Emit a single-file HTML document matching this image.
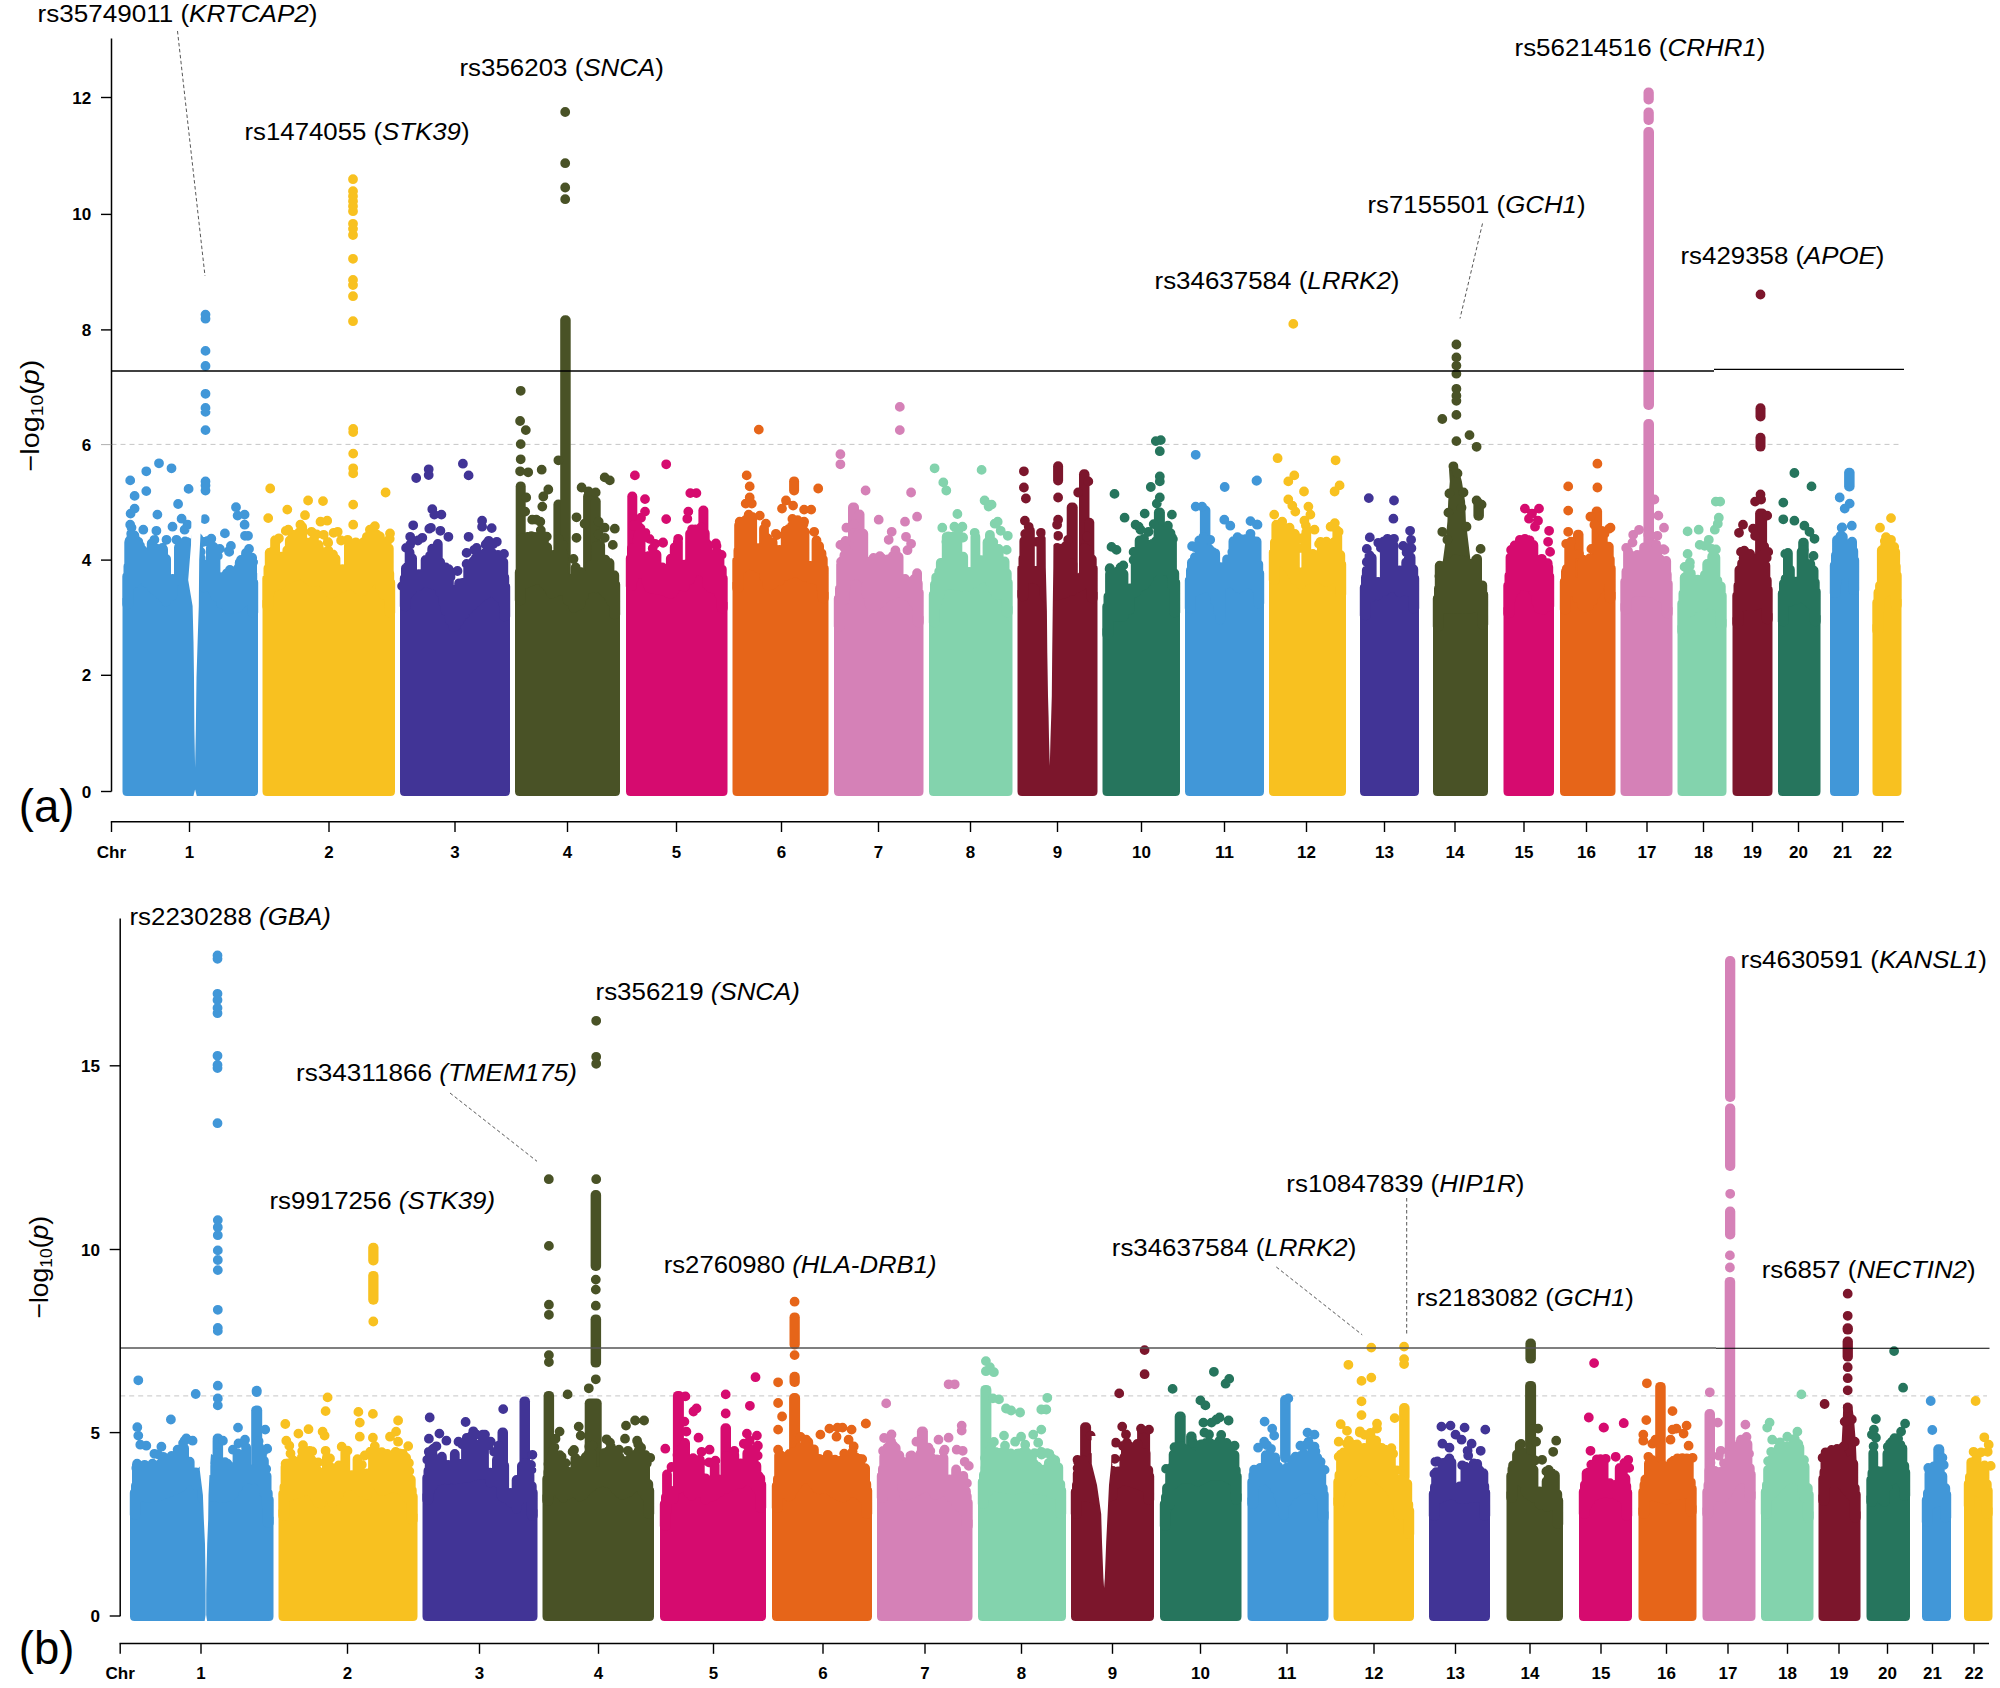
<!DOCTYPE html>
<html lang="en"><head><meta charset="utf-8"><title>Manhattan plots</title>
<style>html,body{margin:0;padding:0;background:#fff}svg{display:block}</style></head>
<body>
<svg width="2000" height="1688" viewBox="0 0 2000 1688" font-family="'Liberation Sans', Arial, sans-serif" fill="#000">
<rect width="2000" height="1688" fill="#fff"/>
<path d="M111.5 444.4 H1901" stroke="#adadad" stroke-width="0.7" stroke-dasharray="5 4" fill="none"/>
<g fill="#4197d8"><path d="M122.5 791.5 L122.5 598.3 L125.5 596.3 L125.5 588.4 L130.2 580.3 L140.3 572.3 L152.4 582.3 L160.4 588.4 L168.5 598.4 L176.5 580.3 L184.6 562.2 L189.6 574.3 L201.7 582.3 L208.8 580.3 L215.8 590.4 L224.9 602.5 L237 602.5 L245 594.4 L250.1 588.4 L255.1 604.4 L256 604.4 L258 606.4 L258 791.5 Q258 796 253.5 796 L127 796 Q122.5 796 122.5 791.5Z"/><path fill="none" stroke="#4197d8" stroke-width="9.8" stroke-linecap="round" d="M127.2 576.3V604.3M128.4 566.3V604.3M253.3 582.4V612.4M252.3 573.2V612.4M129.2 542.3V587.4M131.3 537.5V585.1M131.5 527.6h0M134.4 535.4V583.3M137 550.6V580.6M136.8 540.7h0M140 545.7V578.3M145.9 555.9V582.9M151.7 543.5V587.7M154.5 548.8V590.1M157.6 549V592.5M159.7 556.6V594.2M163.1 549.2V597.5M166.1 559V601.5M172.6 578.8V595.3M178.9 547.5V580.8M185.1 541.5V569.5M191.6 552.7V581.4M190.5 545.3h0M193.7 542.1V582.8M196.4 536.4V584.5M198.3 538.1V586M204.3 564.4V587.6M210.9 547.8V588.7M213.6 547V592.8M215.5 549.5V596.5M221.6 577.1V604.1M227 578.5V608.5M226.9 573.3h0M229.9 569.9V608.5M232.3 583.7V608.5M231.2 576.7h0M235 572.5V608.5M238.2 568.3V607.7M239.7 562.5V605.4M243.7 560.3V602.3M246 553V598.9M248.6 557.3V596.4M252.1 557.6V599.5M129.6 540.7h0M199.5 540.4h0M211.3 538.7h0M229.2 551.9h0M205.5 314.6h0M205.5 318.7h0M205.5 350.9h0M205.5 366h0M205.5 393.8h0M205.5 407.9h0M205.5 411.9h0M205.5 430.1h0M205.5 481.4h0M205.5 485.4h0M205.5 490.5h0M204.7 519.1h0M130.2 480.4h0M146.3 471.3h0M159 463.3h0M171.5 468.3h0M134.6 495.9h0M146.3 491.1h0M188.6 488.9h0M178.1 504h0M134.6 508.6h0M130.6 513.6h0M157.4 514.6h0M181.6 518.7h0M130.2 524.7h0M143.3 529.7h0M156.4 530.8h0M172.5 526.7h0M187.6 524.7h0M236 507.2h0M237.6 515.6h0M244.6 514.6h0M244.6 524.7h0M224.9 533.4h0M248 535.8h0M245 535.8h0M207.8 540.8h0M203.7 541.8h0M230.9 545.9h0M249 548.9h0M219.8 548.9h0M131.2 541.8h0M142.3 549.9h0M138.3 541.8h0M154.4 539.8h0M162.4 547.9h0M166.5 539.8h0M176.5 539.8h0M184.6 529.7h0M131.2 533.8h0M217.8 555.9h0M241 560h0M212.8 549.9h0M228.9 550.9h0M253.1 562h0M200.7 551.9h0M200.7 557.9h0M186.6 541.8h0M188.6 549.9h0"/></g><path fill="#fff" d="M191.5 515 L201.5 515 L199.2 560 L198.8 606 L197.6 642 L196.5 678 L195.8 731 L195.1 768 L194.4 731 L194 678 L193.5 642 L192.6 606 L188.2 580 L191 545Z"/><path fill="#fff" d="M193.3 796.6 L196.9 796.6 L195.1 789.5Z"/>
<g fill="#f8c120"><path d="M262.5 791.5 L262.5 600.3 L265.5 598.3 L265.5 598.3 L271.2 582.3 L281.3 578.3 L289.3 572.3 L301.4 568.2 L311.5 576.3 L321.6 574.3 L331.6 588.4 L341.7 582.3 L351.8 578.3 L361.8 586.4 L369.9 576.3 L375.9 572.3 L382 588.4 L390 590.4 L393 604.4 L395 606.4 L395 791.5 Q395 796 390.5 796 L267 796 Q262.5 796 262.5 791.5Z"/><path fill="none" stroke="#f8c120" stroke-width="9.8" stroke-linecap="round" d="M267.2 578.3V606.3M268.4 568.3V606.3M390.3 582.4V612.4M389.3 573.2V612.4M269.7 552.6V592.8M271.9 552V588.1M275.1 540.1V586.8M281.2 556.7V584.3M287.3 550.1V579.8M289.8 540.4V578.1M292.6 534.7V577.2M296 538.9V576.1M299.3 532.1V575.1M302.2 526.9V574.8M303.9 551.9V576.6M307.8 542.6V579.2M310.7 546.7V581.8M313.9 539.2V581.8M316.2 563.5V581.3M315.8 554.8h0M318.6 545V580.9M320.4 555.7V580.4M323.5 552.3V583.5M326.8 551.6V587.7M328.2 542.8h0M328.5 550.8V590.7M331.1 562.4V594.1M333.2 561.4V593.2M333 554.5h0M335.5 558.6V591.7M342.5 569.2V588M348.9 545.4V585.4M352 551.3V584.5M355.8 542.3V587.2M357.6 544.7V589.3M360.6 579.6V591.1M362.5 545.6V591.4M365.7 547.9V587.2M368.4 550.4V584.1M368.5 545.4h0M370.1 541.6V581.8M370 535.2h0M373.7 536.1V580M376.9 543.8V580.3M380.2 544.5V588.7M379.9 536.4h0M383.1 552.6V594.6M385.8 550.1V595.4M387 541.7h0M388.8 548.3V596.1M389.7 538.8h0M278.9 538.3h0M285.8 530.9h0M316.7 534.4h0M323.7 534.8h0M327.8 542h0M341.1 540.5h0M364 541.8h0M377.1 534.7h0M384.9 546.5h0M353 179.2h0M353 191.2h0M353 196.2h0M353 201.2h0M353 206.2h0M353 211.2h0M353 223.8h0M353 228.8h0M353 235h0M353 258.8h0M353 280h0M353 285h0M353 296.2h0M353 321.2h0M353.2 429h0M353.2 432.1h0M353.2 453.6h0M353.2 468.3h0M353.2 473.4h0M353.2 504.6h0M353.2 524.7h0M270.2 488.5h0M385.6 492.5h0M308.1 500.5h0M323 501.1h0M287.3 509.6h0M268.2 518.1h0M305 515.2h0M320.5 521.7h0M327.2 520.7h0M337.7 531.8h0M374.9 526.1h0M390 533.4h0M288.3 529.7h0M300.4 524.7h0M366.9 536.8h0M333.6 532.8h0M311.5 531.8h0M369.9 529.7h0M277.2 539.8h0M347.7 539.8h0"/></g>
<g fill="#413496"><path d="M400 791.5 L400 600.3 L403 598.3 L403 598.3 L406.1 590.4 L414.2 582.3 L426.3 576.3 L438.4 580.3 L446.4 606.5 L454.5 622.6 L462.5 610.5 L470.6 600.5 L482.7 590.4 L492.7 584.3 L500 592.4 L506.8 602.5 L508 608.4 L510 610.4 L510 791.5 Q510 796 505.5 796 L404.5 796 Q400 796 400 791.5Z"/><path fill="none" stroke="#413496" stroke-width="9.8" stroke-linecap="round" d="M404.7 578.3V606.3M405.9 568.3V606.3M505.3 586.4V616.4M504.3 577.2V616.4M407.4 566.8V595.4M409.6 552.4V592.4M410.1 544.7h0M412.1 558.2V590.3M418.8 574.2V586.1M425.6 560V582.8M427.9 564V582.8M430 555.8V583.6M432.2 548.7V584.4M436.2 549.3V585.5M437.8 543.9V586.1M440.2 562.2V592.4M443 570.7V602.3M445.8 567.4V611.3M448.9 574.1V616.4M450.4 596.2V620.9M453.6 589.6V627M455.8 591.1V626.1M459.1 583.3V621.3M461.5 593.2V617.3M462.6 582.8h0M465.2 592.3V613.7M468.2 565.3V609.5M471.5 564.6V606M473.4 561.2V604.3M475.8 557.9V602.3M474.3 549.8h0M478.1 576.8V600.2M481.1 562.3V597.5M484.5 553.5V595.4M487 550.7V593.6M486.8 543.2h0M489.3 551.6V592.3M492.4 553.2V590.4M496 558.2V594M498 554.8V596.5M500.7 555.9V598.9M503.3 562V603.8M417.9 540.5h0M430.9 527.8h0M448.7 569.2h0M466.6 563.9h0M478 554.1h0M485.7 544.5h0M493.3 544h0M416.2 478h0M428.7 469.3h0M428.7 475h0M462.9 463.7h0M468.6 475.4h0M432.3 509.2h0M434.3 514.6h0M441.4 514.6h0M413.2 525.3h0M429.3 528.7h0M440.4 530.8h0M448.4 536.8h0M468.6 536.8h0M482.1 520.7h0M482.1 526.7h0M491.7 528.1h0M410.2 536.8h0M406.1 547.9h0M488.7 540.8h0M466.6 552.9h0M457.5 571h0M450.5 577.1h0M422.3 537.8h0M476.6 547.9h0M496.8 541.8h0M402.1 586.1h0M504 553.9h0"/></g>
<g fill="#495226"><path d="M515 791.5 L515 594.3 L518 592.3 L518 582.3 L528.2 576.3 L540.3 572.3 L552.4 588.4 L560.4 582.3 L572.5 602.5 L580.6 598.4 L586.6 582.3 L600.7 582.3 L608.8 590.4 L617.8 606.4 L618 606.4 L620 608.4 L620 791.5 Q620 796 615.5 796 L519.5 796 Q515 796 515 791.5Z"/><rect x="515.7" y="481.4" width="10" height="107.3" rx="4.9"/><rect x="553.4" y="499.5" width="10" height="92.3" rx="4.9"/><rect x="560.2" y="315.2" width="10.5" height="283.5" rx="4.9"/><rect x="583.1" y="491.5" width="11" height="98.9" rx="4.9"/><rect x="590.7" y="496.5" width="10" height="93.8" rx="4.9"/><path fill="none" stroke="#495226" stroke-width="9.8" stroke-linecap="round" d="M519.7 572.3V600.3M520.9 562.3V600.3M615.3 584.4V614.4M614.3 575.2V614.4M521.6 547.1V585.9M525 539V584.2M527.5 536.8V582.7M530.1 537.1V581.8M532.5 545.7V580.9M531.3 536.2h0M534.8 536.8V580.2M536.7 551.6V579.5M539.3 539.2V578.7M541 532.9V579.5M543.9 538.5V583.5M547.2 547.3V586.8M550.1 571.4V591M551.5 577.2V593.7M553.3 568.7h0M554.7 554.7V592.9M556.9 556V590.7M559.2 548.5V589M559 539.4h0M562.2 551.4V590.9M567.7 578V600.5M573.7 581.6V608M575.7 567.4V606.8M578.2 574.1V605.5M580.4 571.9V604.5M583.9 578.1V596M590.1 565.2V588.3M596 546.4V588.3M600.2 545.2V588.3M598.6 534.5h0M602.3 580.4V590M605.4 559.6V593.2M607.7 569.9V595.4M609.5 562.9V598.5M611.6 576.7V602.1M522.1 538.3h0M540.8 530.1h0M546.8 536.6h0M563 545h0M573.5 559h0M565.2 112h0M565.2 163.2h0M565.2 187.5h0M565.2 199.2h0M520.7 390.8h0M520.1 421h0M525.8 430.1h0M520.7 444.1h0M520.7 459.3h0M520.1 471.3h0M528.2 472.3h0M541.7 469.7h0M558.4 460.3h0M548.3 489.5h0M543.3 496.5h0M542.3 506.6h0M581.6 487.5h0M588.6 491.5h0M595.7 492.5h0M604.7 477.4h0M609.8 480.4h0M576.5 517.3h0M536.3 519.7h0M614.8 528.7h0M604.7 527.7h0M576.5 537.8h0M612.8 544.9h0M532.2 519.7h0M540.3 521.7h0M604.7 537.8h0M584.6 523.7h0M598.7 521.7h0M526.2 497.5h0M525.2 511.6h0"/></g>
<g fill="#d60b6f"><path d="M626 791.5 L626 580.2 L629 578.2 L629 578.2 L641 562.2 L649 582.3 L661.1 584.3 L671.2 588.4 L679.3 578.3 L687.3 582.3 L693.4 566.2 L703.4 562.2 L707.5 580.3 L717.5 584.3 L723.6 598.4 L725.5 600.3 L727.5 602.3 L727.5 791.5 Q727.5 796 723 796 L630.5 796 Q626 796 626 791.5Z"/><rect x="627.3" y="491.5" width="10" height="90.3" rx="4.9"/><rect x="698.4" y="505.6" width="10" height="64.6" rx="4.9"/><path fill="none" stroke="#d60b6f" stroke-width="9.8" stroke-linecap="round" d="M630.7 558.2V586.2M631.9 548.2V586.2M722.8 578.3V608.3M721.8 569.1V608.3M633.6 563.1V578.7M636.5 547.5V574.6M637.4 540.8h0M638.8 533.4V571.6M637.7 525.3h0M640.6 528.5V568.9M643.7 556.3V574.6M646.5 573.4V581.6M648.8 555.9V587.5M651.1 576.7V588.7M654 554.3V589.2M652.7 548.4h0M656.5 554.7V589.6M662.4 567.4V590.9M667.8 571V593.1M670.8 558.6V594M672.8 559.4V592.8M674.7 547.3V589.8M677.9 541.5V585.7M684.4 564.6V586.9M690.1 533.6V579.5M692.9 530V573.6M695.5 529.3V571.2M699.2 558.6V570M701.1 527.3V568.9M704.8 533.3V573.4M707.3 544.1V585.1M710.1 563.2V587.5M713.2 553.9V588.7M716.9 552V589.9M719.5 558.8V594.7M633.1 525.5h0M637.7 526.3h0M645.4 532.8h0M649.5 538.9h0M663 542.4h0M692.1 529.3h0M715.9 543.4h0M634.9 475.4h0M666.2 464.3h0M690.3 493.1h0M696.4 493.1h0M645 499.1h0M666.2 519.1h0M688.3 511.6h0M687.3 518.7h0M645 511.6h0M641 517.7h0M678.2 538.8h0M693.4 529.7h0M705.4 541.8h0M716.5 545.9h0M655.1 543.8h0M663.1 542.8h0M721.6 554.9h0"/></g>
<g fill="#e66519"><path d="M732.5 791.5 L732.5 582.2 L735.5 580.2 L735.5 580.2 L739.7 564.2 L749.7 558.2 L761.8 564.2 L767.9 580.3 L777.9 576.3 L788 568.2 L798.1 566.2 L806.1 572.3 L818.2 574.3 L824.3 588.4 L826.5 590.3 L828.5 592.3 L828.5 791.5 Q828.5 796 824 796 L737 796 Q732.5 796 732.5 791.5Z"/><rect x="789.1" y="476.4" width="10" height="19.1" rx="4.9"/><path fill="none" stroke="#e66519" stroke-width="9.8" stroke-linecap="round" d="M737.2 560.2V588.2M738.4 550.2V588.2M823.8 568.3V598.3M822.8 559.1V598.3M739.1 525.1V570.5M742.4 526.6V568.5M745.7 519.9V566.5M748.5 516.9V564.7M752.2 516.9V565.3M758.1 548.1V568.3M764 528.7V576.8M767.2 538.1V585.2M769.2 560.2V585.6M772.6 542.1V584.4M779.4 549.8V581.2M785.7 530.7V575.9M788.5 529.2V574.1M791.2 527.9V573.6M792.4 518.9h0M793.3 542.1V573.1M795.8 527.3V572.6M798.2 526.2V572.3M797.7 520.1h0M800.8 565.7V574.6M804.5 531.5V576.9M803.5 524.1h0M810.4 566V579M816.5 540.4V580M819.1 545.9V581.4M821.5 553.3V588.5M776.9 535.1h0M796 523.4h0M758.8 429.6h0M746.7 475.4h0M749.7 486.4h0M818.2 488.5h0M749.7 497.5h0M751.8 503.6h0M745.7 503.6h0M786 500.5h0M782 508.6h0M793.1 505.6h0M804.1 509.6h0M811.2 509.6h0M748.7 514.6h0M759.8 515.6h0M804.1 521.7h0M739.7 521.7h0M765.9 523.7h0M792 525.7h0M814.2 531.8h0M775.9 533.8h0"/></g>
<g fill="#d581b7"><path d="M834 791.5 L834 620.5 L837 618.5 L837 606.5 L842.4 602.5 L848.4 570.2 L862.5 568.2 L868.6 598.4 L876.6 600.5 L886.7 590.4 L900 586.4 L900 588.4 L908.1 590.4 L916.1 598.4 L921.5 612.5 L921.5 614.4 L923.5 616.4 L923.5 791.5 Q923.5 796 919 796 L838.5 796 Q834 796 834 791.5Z"/><rect x="848" y="502.6" width="11" height="75" rx="4.9"/><rect x="854.5" y="509.6" width="10" height="67.1" rx="4.9"/><path fill="none" stroke="#d581b7" stroke-width="9.8" stroke-linecap="round" d="M838.7 598.5V626.5M839.9 588.5V626.5M918.8 592.4V622.4M917.8 583.2V622.4M841.1 564.5V609.4M844.4 555.2V600M844.5 547.9h0M846 548.4V588.4M845.5 541h0M852.3 553.8V575.7M858.1 534V574.8M861.4 538.9V574.4M863.3 533.7V578.1M866.8 566.5V594.8M869.6 570.7V604.6M871.4 560.8V605.2M873.5 558V605.7M876.4 565.5V606.4M878.3 562V604.4M880.8 593.4V602.4M882.5 558.6V600.2M885.2 562.8V598M888.6 559.2V595.9M891 558.6V595.1M892.8 556V594.4M895.4 550.5V593.6M898.6 556.9V592.7M905.1 578.9V595.6M911.6 583.2V599.8M914.3 578.9V603.1M917.1 573.1V607.5M841.1 561.7h0M854.1 524.2h0M879.9 556.1h0M907.5 550.2h0M840.4 454.2h0M840.4 464.3h0M899.8 406.9h0M899.8 430.1h0M865.6 490.5h0M878.7 519.7h0M891.7 531.8h0M840.4 544.9h0M846.4 527.7h0M888.7 539.8h0M911.1 492.5h0M917.1 516.7h0M905 521.7h0M906 536.8h0M911.1 543.8h0"/></g>
<g fill="#83d3ad"><path d="M929 791.5 L929 616.4 L932 614.4 L932 606.5 L936.3 598.4 L942.3 580.3 L950.4 578.3 L960.4 580.3 L970.5 580.3 L980.6 572.3 L988.6 572.3 L994.7 588.4 L1004.7 588.4 L1009.8 602.5 L1010.5 604.4 L1012.5 606.4 L1012.5 791.5 Q1012.5 796 1008 796 L933.5 796 Q929 796 929 791.5Z"/><path fill="none" stroke="#83d3ad" stroke-width="9.8" stroke-linecap="round" d="M933.7 594.4V622.4M934.9 584.4V622.4M1007.8 582.4V612.4M1006.8 573.2V612.4M936.2 577.3V604.7M939.2 571.5V596M940.8 562.8V589.6M944.2 561.9V585.9M946.7 536.8V585.2M948.9 572.5V584.7M950.9 538.4V584.4M953.2 541.8V584.9M952 536.7h0M955.2 537.4V585.4M957.4 539V585.8M958.5 529.7h0M960.9 570.1V586.3M963.2 556.6V586.3M969.1 571.8V586.3M975.4 536.7V582.7M981.1 560.1V578.3M987.5 542.3V578.3M989.9 534.8V582M993.3 581.7V590.3M996.3 553.8V594.4M998.7 548.9V594.4M1000.9 570.2V594.4M1004.6 561.5V594.4M948.2 536.4h0M955.4 535.2h0M963.1 537.5h0M974.7 532.8h0M993.3 542.1h0M934.6 468.3h0M981.6 469.9h0M943.3 482.4h0M946.3 490.5h0M984.6 500.5h0M988.6 506.6h0M991.6 504.6h0M957.4 514h0M997.7 521.7h0M942.3 527.7h0M954.4 526.7h0M962.4 526.7h0M1000.7 530.8h0M1007.8 535.8h0M994.7 523.7h0M946.3 541.8h0M1006.7 549.9h0"/></g>
<g fill="#7c162c"><path d="M1017.5 791.5 L1017.5 590.3 L1020.5 588.3 L1020.5 588.3 L1021.9 574.3 L1030.9 572.3 L1041 574.3 L1045 592.4 L1061.1 588.4 L1069.2 586.4 L1077.2 582.3 L1091.3 574.3 L1095.4 590.3 L1095.5 590.3 L1097.5 592.3 L1097.5 791.5 Q1097.5 796 1093 796 L1022 796 Q1017.5 796 1017.5 791.5Z"/><rect x="1053.1" y="461.3" width="10" height="24.2" rx="4.9"/><rect x="1079" y="469.3" width="10.5" height="117" rx="4.9"/><rect x="1066.7" y="502.6" width="11" height="90.3" rx="4.9"/><rect x="1084.3" y="517.7" width="10" height="65.8" rx="4.9"/><path fill="none" stroke="#7c162c" stroke-width="9.8" stroke-linecap="round" d="M1022.2 568.3V596.3M1023.4 558.3V596.3M1092.8 568.3V598.3M1091.8 559.1V598.3M1024.3 541V579.7M1025.2 533.9h0M1026.8 534.1V579.1M1028.7 526.8h0M1029.9 530.5V578.5M1035.7 571V579.2M1041.4 539.7V582.2M1044.8 572.5V596.1M1046.2 552.3V598M1045.2 544h0M1049.1 580.5V597.4M1050.6 574h0M1052.3 551.5V596.6M1053.9 579.6V596.1M1057.9 557.8V595.3M1058.5 548.5h0M1061.4 557.2V594.4M1063.4 553.3V593.7M1065.6 546.2V593.2M1072.4 563.4V590.7M1078.6 577.8V587.4M1082.4 576V585.6M1084.5 547.8V584.1M1086.5 555.7V582.8M1089.2 550.1V581.4M1045.2 550.4h0M1050.4 550.4h0M1068.2 539.8h0M1087 536.7h0M1023.9 471.3h0M1023.9 487.5h0M1025.9 498.5h0M1024.9 520.7h0M1058.1 497.5h0M1058.1 519.7h0M1057.1 524.7h0M1058.1 535.8h0M1057.1 547.9h0M1078.2 492.5h0M1088.3 481.4h0M1028.9 531.8h0M1041 532.8h0M1037 541.8h0M1025.9 545.9h0"/></g><path fill="#fff" d="M1045.6 530 L1053.5 530 L1053.3 568 L1052.7 611 L1052.2 653 L1051.8 696 L1051.2 717 L1050.5 738 L1049.8 766 L1049 738 L1048.6 717 L1048 696 L1047.3 653 L1046.9 611 L1045.8 568Z"/>
<g fill="#26755d"><path d="M1102.5 791.5 L1102.5 628.5 L1105.5 626.5 L1105.5 622.6 L1106.4 611.5 L1117.5 610.5 L1127.6 610.5 L1131.6 598.4 L1137.7 582.3 L1145.7 578.3 L1153.8 564.2 L1163.8 564.2 L1169.9 566.2 L1173.9 588.4 L1178 604.4 L1178 604.4 L1180 606.4 L1180 791.5 Q1180 796 1175.5 796 L1107 796 Q1102.5 796 1102.5 791.5Z"/><rect x="1153.9" y="507.6" width="11" height="64.6" rx="4.9"/><path fill="none" stroke="#26755d" stroke-width="9.8" stroke-linecap="round" d="M1107.2 606.5V634.5M1108.4 596.5V634.5M1175.3 582.4V612.4M1174.3 573.2V612.4M1110 574V617.3M1109.8 568.2h0M1112.8 588.9V617M1115.2 577.1V616.8M1117.5 578V616.6M1118.2 571h0M1120 580V616.5M1123.5 574V616.5M1123.3 565.4h0M1129.9 588.3V609.6M1135.7 553.6V592.4M1139.6 540.5V587.5M1140.5 529.8h0M1142.1 551V586.1M1143.5 544.6h0M1144.4 557.2V585.1M1142.8 548.6h0M1146.5 556.1V582.2M1148.8 550.7V578.6M1148.7 544.9h0M1152.3 543.9V573M1155.7 541.5V570.2M1158.5 528.8V570.2M1161.6 543.5V570.2M1164.4 531.6V570.3M1166.9 550.7V571.2M1165.8 539.9h0M1170.5 533.2V574M1172 537.4V585.2M1109.6 569h0M1120.5 567.4h0M1144 538.8h0M1148.5 531.8h0M1153.7 524.1h0M1172.9 539.1h0M1155.8 441.1h0M1160.8 440.1h0M1159.8 451.2h0M1159.8 476.4h0M1159.8 481.4h0M1150.8 487h0M1114.5 493.9h0M1159.8 497.5h0M1156.8 503.6h0M1124.6 517.7h0M1144.7 513.6h0M1171.9 514.6h0M1135.6 524.7h0M1138.7 526.7h0M1111.5 546.9h0M1116.5 549.9h0M1167.9 525.7h0M1169.9 533.8h0M1133.6 560h0M1133.6 551.9h0M1171.9 549.9h0"/></g>
<g fill="#4197d8"><path d="M1185 791.5 L1185 602.3 L1188 600.3 L1188.4 600.3 L1191 588.4 L1198.1 584.3 L1209.2 580.3 L1214.2 590.4 L1220.2 616.6 L1222.3 582.3 L1230.3 574.3 L1238.4 582.3 L1246.4 577.3 L1254.5 579.3 L1260.5 590.4 L1262 595.3 L1262 595.3 L1264 597.3 L1264 791.5 Q1264 796 1259.5 796 L1189.5 796 Q1185 796 1185 791.5Z"/><rect x="1199.9" y="505.6" width="10.5" height="84.2" rx="4.9"/><path fill="none" stroke="#4197d8" stroke-width="9.8" stroke-linecap="round" d="M1189.7 580.3V608.3M1190.9 570.3V608.3M1259.3 573.3V603.3M1258.3 564.1V603.3M1191.9 562.4V593.8M1194.9 557.2V592.2M1194.4 547h0M1197.4 557.7V590.6M1199.6 549.4V589.8M1199.4 541.7h0M1201.5 541V589M1205.1 564V587.9M1208.1 551.1V586.8M1209.5 549.2V588M1213 552.1V593.4M1215.2 553.3V600.9M1218.1 572.1V611.9M1220.2 579.5V619.9M1220.6 571h0M1227.1 559.3V583.5M1233.4 541.2V583.7M1235.7 568.1V585.7M1238.7 544.9V588.3M1241.8 540.7V586.5M1243.5 542.3V585.1M1246.3 539V583.5M1249.4 540.1V583.9M1251.2 539V584.5M1254.3 543.5V585.3M1256.6 541.5V589.1M1192.1 546.2h0M1199.3 540.4h0M1203.3 536.9h0M1220.6 567.2h0M1237.5 537.2h0M1241.9 539.5h0M1195.7 454.8h0M1256.5 480.8h0M1224.7 487h0M1195.7 506.6h0M1202.1 506.6h0M1224.3 519.7h0M1230.3 525.7h0M1250.5 521.1h0M1257.5 524.7h0M1210.2 539.8h0M1250.5 533.8h0M1232.3 551.9h0M1252.5 549.9h0M1242.4 547.9h0M1257 480.4h0M1257 524.7h0"/></g>
<g fill="#f8c120"><path d="M1269 791.5 L1269 574.1 L1272 572.1 L1272 572.1 L1274.2 554.1 L1282.2 556.1 L1290.3 564.2 L1298.3 580.3 L1306.4 574.3 L1316.5 570.2 L1326.5 576.3 L1334.6 570.2 L1342.6 576.3 L1344 586.2 L1344 586.2 L1346 588.2 L1346 791.5 Q1346 796 1341.5 796 L1273.5 796 Q1269 796 1269 791.5Z"/><path fill="none" stroke="#f8c120" stroke-width="9.8" stroke-linecap="round" d="M1273.7 552.1V580.1M1274.9 542.1V580.1M1341.3 564.2V594.2M1340.3 555V594.2M1276.3 524.7V560.6M1278.3 537.1V561.2M1280.6 539.3V561.7M1283.8 529.2V563.3M1286.7 528.9V566.5M1289.6 527.7V569.8M1292.3 539.7V574.8M1292.1 533.6h0M1294.9 533.9V579.6M1300.8 572.3V584.5M1306.3 532V580.2M1305.9 525.6h0M1312.9 553.9V577.7M1319.6 553.9V578M1319.1 543.9h0M1321.8 548.4V579.3M1323.8 553.1V580.7M1324.4 546.5h0M1326.4 541.6V582.2M1329.6 544.2V579.8M1332.6 544.5V577.6M1334.6 541.8V576.6M1337.3 530.6V578.6M1300.9 538.3h0M1334.8 523.1h0M1293.3 323.9h0M1277.6 458.2h0M1335.6 460.3h0M1294.3 475.4h0M1288.3 481.4h0M1339.6 485.4h0M1334.6 491.5h0M1304 491.5h0M1288.3 499.5h0M1308.4 506.6h0M1295.3 511.6h0M1310.4 514.6h0M1304.4 520.7h0M1274.2 514.6h0M1330.6 526.7h0M1314.5 529.7h0M1292.3 505.6h0M1282.2 521.7h0M1338.6 531.8h0M1320.5 541.8h0M1300.4 547.9h0"/></g>
<g fill="#413496"><path d="M1360 791.5 L1360 609.4 L1363 607.4 L1363 606.5 L1365.8 590.4 L1374.9 591.4 L1382.9 586.4 L1391 580.3 L1399 586.4 L1409.1 584.3 L1415.2 591.4 L1417 600.3 L1417 600.3 L1419 602.3 L1419 791.5 Q1419 796 1414.5 796 L1364.5 796 Q1360 796 1360 791.5Z"/><path fill="none" stroke="#413496" stroke-width="9.8" stroke-linecap="round" d="M1364.7 587.4V615.4M1365.9 577.4V615.4M1414.3 578.3V608.3M1413.3 569.1V608.3M1366.8 570.1V596.5M1369.5 555.3V596.8M1371.7 557.8V597M1378.1 582V595.4M1384.8 547V591.1M1383.9 541.3h0M1387.2 546.2V589.4M1387.5 538.8h0M1390 540.6V587M1393.3 544.8V587.9M1399.6 570.5V592.3M1406.2 562.3V591M1406.6 552.5h0M1408.9 554.5V590.4M1410.6 557.2V592.3M1411.4 548.2h0M1378.3 542.8h0M1368.8 498.1h0M1394 500.5h0M1393.4 518.7h0M1410.1 530.8h0M1369.8 537.4h0M1394 538.8h0M1366.8 548.9h0M1380.9 547.9h0M1409.1 547.9h0M1411.1 539.8h0M1403.1 545.9h0M1366.8 562h0M1368.8 570h0"/></g>
<g fill="#495226"><path d="M1433 791.5 L1433 620.5 L1436 618.5 L1436 618.5 L1438.3 606.5 L1443.4 602.5 L1471.6 602.5 L1477.6 600.5 L1484.6 606.5 L1486 616.5 L1488 618.5 L1488 791.5 Q1488 796 1483.5 796 L1437.5 796 Q1433 796 1433 791.5Z"/><rect x="1473.4" y="498.5" width="10.5" height="22.2" rx="4.9"/><path d="M1453 464.3 L1457.9 466.3 L1461.9 481.4 L1465.1 501.6 L1465.9 521.7 L1468.3 541.8 L1470.7 562 L1472.4 572 L1441.3 572 L1442.7 562 L1445.4 541.8 L1447.4 521.7 L1448.2 501.6 L1449.8 481.4 L1449 469.3Z"/><path fill="none" stroke="#495226" stroke-width="9.8" stroke-linecap="round" d="M1437.7 598.5V626.5M1438.9 588.5V626.5M1483.3 594.5V624.5M1482.3 585.3V624.5M1439.7 565.6V611.1M1442.7 571V608.7M1445.8 600.3V608.5M1446.2 589.4h0M1447.7 567.6V608.5M1447.9 562.6h0M1450.4 572V608.5M1453 583.3V608.5M1455.9 560V608.5M1458.4 578.7V608.5M1460.3 583.1V608.5M1464.4 561V608.5M1466.2 565.2V608.5M1468.9 569.9V608.5M1469.1 563.7h0M1471.2 576V608.5M1473.8 566.8V607.7M1477.1 558.8V606.6M1479.4 585.2V608M1455.2 559.1h0M1461.6 559.9h0M1476 559.7h0M1456.4 344.5h0M1456.4 357.5h0M1456.4 365.6h0M1456.4 373.7h0M1456.4 388.8h0M1456.4 395.8h0M1456.4 400.8h0M1456.4 414.9h0M1442.3 419h0M1469.5 435.1h0M1456.4 441.1h0M1476.6 446.8h0M1453.4 466.3h0M1457.5 473.4h0M1476.6 500.5h0M1481.6 504.6h0M1448.4 512.6h0M1466.5 526.7h0M1442.3 531.8h0M1480.6 548.9h0M1476.6 562h0M1463.5 492.5h0M1461.5 507.6h0M1449.4 493.5h0M1447.4 539.8h0M1441.3 566h0M1439.3 576.1h0"/></g>
<g fill="#d60b6f"><path d="M1503.5 791.5 L1503.5 607.4 L1506.5 605.4 L1507.8 605.4 L1511.8 589.4 L1519.9 579.3 L1532 581.3 L1538 602.5 L1544.1 604.5 L1548.1 582.3 L1552 584.3 L1552 598.3 L1554 600.3 L1554 791.5 Q1554 796 1549.5 796 L1508 796 Q1503.5 796 1503.5 791.5Z"/><path fill="none" stroke="#d60b6f" stroke-width="9.8" stroke-linecap="round" d="M1508.2 585.4V613.4M1509.4 575.4V613.4M1549.3 576.3V606.3M1548.3 567.1V606.3M1510.5 557.1V600.3M1511.1 549.9h0M1512.8 554.9V593.7M1514.4 546.6h0M1516 548.9V589.7M1518.7 548.8V586.3M1520.8 545.4V585.5M1524.2 577.8V586M1524.9 570.4h0M1527.6 559V586.5M1528.1 553.6h0M1529.6 540.3V587M1533.4 544.9V591.2M1536.6 563.3V602.4M1538.7 579.6V608.6M1540.8 567.9V609.3M1541.8 558.8h0M1543.1 562.7V610.1M1544.9 572.2V606.3M1547.7 563.2V592.4M1514.7 545.4h0M1527.9 540h0M1524.9 508.6h0M1539 508.6h0M1532 513.6h0M1529 518.7h0M1538 520.7h0M1535 526.7h0M1549.1 530.8h0M1548.1 541.8h0M1524.9 538.8h0M1519.9 539.8h0M1550.1 551.9h0"/></g>
<g fill="#e66519"><path d="M1560 791.5 L1560 603.4 L1563 601.4 L1563 601.4 L1564.2 585.4 L1572.3 585.4 L1584.3 602.5 L1590.4 599.5 L1602.5 574.3 L1610.5 570.2 L1613.5 588.4 L1613.5 590.3 L1615.5 592.3 L1615.5 791.5 Q1615.5 796 1611 796 L1564.5 796 Q1560 796 1560 791.5Z"/><rect x="1573" y="529.7" width="10.5" height="72.2" rx="4.9"/><rect x="1591.6" y="506.6" width="10.5" height="87.4" rx="4.9"/><path fill="none" stroke="#e66519" stroke-width="9.8" stroke-linecap="round" d="M1564.7 581.4V609.4M1565.9 571.4V609.4M1610.8 568.3V598.3M1609.8 559.1V598.3M1566.8 568.6V591.4M1569.2 545.5V591.4M1571 552.6V591.4M1571 541.6h0M1577 582.1V598M1582.6 562V606.3M1585.7 569.3V607.6M1589.2 565.2V606M1592.8 562.1V600.9M1595.7 565.5V594.6M1598.6 552.4V589.4M1599.9 541.5V584.5M1602.8 537.7V580M1601.7 530.9h0M1606.5 548.8V578.5M1608.8 546.6V577.4M1579 554h0M1583.1 559.7h0M1589.9 558.2h0M1568.2 486.4h0M1597.4 463.7h0M1597.4 487.5h0M1568.2 510.6h0M1590.4 516.7h0M1568.2 531.8h0M1610.5 527.7h0M1594.4 524.7h0M1591.4 548.9h0M1604.5 533.8h0M1566.2 543.8h0M1609.1 528.7h0"/></g>
<g fill="#d581b7"><path d="M1620.5 791.5 L1620.5 603.4 L1623.5 601.4 L1623.5 601.4 L1626.2 589.4 L1636.3 585.4 L1644.3 585.4 L1654.4 587.4 L1660.4 591.4 L1666.5 589.4 L1670.5 602.5 L1670.5 605.4 L1672.5 607.4 L1672.5 791.5 Q1672.5 796 1668 796 L1625 796 Q1620.5 796 1620.5 791.5Z"/><rect x="1643.5" y="87.5" width="10.3" height="17" rx="4.9"/><rect x="1643.5" y="107.5" width="10.3" height="17.5" rx="4.9"/><rect x="1643.4" y="127" width="10.6" height="283" rx="4.9"/><rect x="1643.4" y="419" width="10.6" height="175.3" rx="4.9"/><path fill="none" stroke="#d581b7" stroke-width="9.8" stroke-linecap="round" d="M1625.2 581.4V609.4M1626.4 571.4V609.4M1667.8 583.4V613.4M1666.8 574.2V613.4M1628 550.9V594.8M1630.3 567.7V593.9M1629.3 558.2h0M1632.3 561.3V592.9M1632.2 556h0M1634.9 566.1V591.9M1636.2 557.8h0M1637.2 554.9V591.4M1639.1 579.3V591.4M1642.1 558.3V591.4M1644.1 547.3V591.4M1647 557.3V591.9M1648.8 565.8V592.3M1651.7 563.5V592.9M1652 555.2h0M1655.6 554.7V594M1657.1 547.7V595.4M1660.1 559.2V597.3M1663.2 580.6V596.4M1666.2 560.9V595.5M1632.5 542.6h0M1639.1 529.8h0M1656.1 544.3h0M1663.4 549.2h0M1654.4 499.5h0M1658.4 515.6h0M1664 527.7h0M1633.2 534.8h0M1648.3 534.8h0M1657.4 535.8h0M1664.5 549.9h0M1626.2 547.9h0"/></g>
<g fill="#83d3ad"><path d="M1677.5 791.5 L1677.5 625.5 L1680.5 623.5 L1680.5 618.6 L1684.6 607.5 L1692.6 605.5 L1698.7 601.5 L1708.8 597.4 L1720.8 601.5 L1724.5 612.5 L1724.5 617.5 L1726.5 619.5 L1726.5 791.5 Q1726.5 796 1722 796 L1682 796 Q1677.5 796 1677.5 791.5Z"/><path fill="none" stroke="#83d3ad" stroke-width="9.8" stroke-linecap="round" d="M1682.2 603.5V631.5M1683.4 593.5V631.5M1721.8 595.5V625.5M1720.8 586.3V625.5M1684.7 577.5V613.5M1688.2 567.3V612.7M1690.8 573.3V611.9M1689.9 562.5h0M1697.7 579.7V608.1M1703.9 580.3V605.2M1704.9 574.7h0M1707.2 564V603.9M1710.3 585.2V604.1M1712.2 556.4V604.7M1715.4 557.5V605.6M1715.9 549.5h0M1717.4 580.4V606.4M1684.6 566.9h0M1689.7 566.1h0M1715.8 501.6h0M1720.2 501.6h0M1718.8 517.7h0M1717.8 523.7h0M1714.8 529.7h0M1687.6 531.4h0M1698.7 529.7h0M1708.8 539.8h0M1699.7 544.9h0M1711.8 548.9h0M1687.6 553.9h0M1704.7 545.9h0M1686.6 568h0"/></g>
<g fill="#7c162c"><path d="M1732.5 791.5 L1732.5 617.5 L1735.5 615.5 L1735.5 615.5 L1737 601.5 L1749 599.5 L1755.1 599.5 L1767.2 595.4 L1770.5 611.4 L1770.5 611.4 L1772.5 613.4 L1772.5 791.5 Q1772.5 796 1768 796 L1737 796 Q1732.5 796 1732.5 791.5Z"/><rect x="1755.5" y="403.3" width="10" height="18.1" rx="4.9"/><rect x="1755.5" y="432.7" width="10" height="18.9" rx="4.9"/><rect x="1755.1" y="508.6" width="12" height="96.8" rx="4.9"/><path fill="none" stroke="#7c162c" stroke-width="9.8" stroke-linecap="round" d="M1737.2 595.5V623.5M1738.4 585.5V623.5M1767.8 589.4V619.4M1766.8 580.2V619.4M1739.4 570V607M1742.1 563.1V606.6M1743.6 558h0M1745.2 560.7V606.1M1744.3 550.6h0M1748.5 590.8V605.5M1751.5 564V605.5M1754.7 560.7V605.5M1757.7 563.6V604.6M1760.4 558.7V603.7M1762.7 554.6V602.8M1764.2 546.4h0M1765.4 565.5V601.9M1766.7 557.7h0M1747.1 558.3h0M1758.9 557.3h0M1760.5 294.5h0M1760.5 494.5h0M1755.1 501.6h0M1761.1 499.5h0M1743 524.7h0M1739 532.8h0M1753.1 528.7h0M1741 551.9h0M1750.1 553.9h0M1767.2 515.6h0M1768.2 551.9h0M1755.1 535.8h0"/></g>
<g fill="#26755d"><path d="M1778 791.5 L1778 615.4 L1781 613.4 L1781 608.5 L1783.3 593.4 L1793.4 597.4 L1799.4 589.4 L1809.5 597.4 L1816.5 599.5 L1818.5 612.5 L1818.5 613.4 L1820.5 615.4 L1820.5 791.5 Q1820.5 796 1816 796 L1782.5 796 Q1778 796 1778 791.5Z"/><rect x="1798.2" y="537.8" width="10.5" height="62.8" rx="4.9"/><path fill="none" stroke="#26755d" stroke-width="9.8" stroke-linecap="round" d="M1782.7 593.4V621.4M1783.9 583.4V621.4M1815.8 591.4V621.4M1814.8 582.2V621.4M1785.6 578.8V600.1M1787.9 553V601.2M1789.9 569.5V602.1M1796 581.6V599.9M1801.6 551.7V597.3M1805.4 583.9V599.9M1804.8 574.1h0M1807.7 564.1V601.9M1810.3 564V603.7M1813.6 570.5V604.7M1803.6 550.1h0M1794.4 473h0M1811.5 486.4h0M1783.3 502.6h0M1783.3 519.3h0M1794.4 520.7h0M1804.4 525.7h0M1809.5 531.8h0M1814.5 538.8h0M1785.3 553.9h0M1813.5 555.9h0"/></g>
<g fill="#4197d8"><path d="M1830 791.5 L1830 587.2 L1833.6 585.2 L1835.2 580.3 L1839.7 569.2 L1849.7 566.2 L1855.8 570.2 L1857 582.2 L1857 582.2 L1859 584.2 L1859 791.5 Q1859 796 1854.5 796 L1834.5 796 Q1830 796 1830 791.5Z"/><rect x="1844.1" y="467.7" width="10.5" height="23.8" rx="4.9"/><path fill="none" stroke="#4197d8" stroke-width="9.8" stroke-linecap="round" d="M1834.7 565.2V593.2M1835.9 555.2V593.2M1854.3 560.2V590.2M1853.3 551V590.2M1837 539.9V581.7M1840.5 536V575.1M1842.8 536.6V574.2M1846.6 545.2V573.2M1849.2 557.6V572.4M1852.1 541.7V574M1842.2 527.4h0M1839.7 497.5h0M1849.7 503.6h0M1844.7 508.6h0M1851.8 525.7h0M1841.7 527.7h0"/></g>
<g fill="#f8c120"><path d="M1872.5 791.5 L1872.5 624.5 L1875.5 622.5 L1876.3 622.5 L1879 606.5 L1882 589.4 L1890 581.3 L1897.1 591.4 L1899.5 597.3 L1899.5 597.3 L1901.5 599.3 L1901.5 791.5 Q1901.5 796 1897 796 L1877 796 Q1872.5 796 1872.5 791.5Z"/><path fill="none" stroke="#f8c120" stroke-width="9.8" stroke-linecap="round" d="M1877.2 602.5V630.5M1878.4 592.5V630.5M1896.8 575.3V605.3M1895.8 566.1V605.3M1880 585.5V608.8M1881.8 550.2V595.5M1885.1 545.4V592.6M1886 537.1h0M1887 550.9V590.1M1889.9 546.4V587.7M1893.1 571V591.5M1894 565.6h0M1895.2 552V594.7M1884.8 541.1h0M1894.2 547h0M1891 518.1h0M1880 527.7h0M1891 539.8h0M1886 543.8h0"/></g>
<path d="M111.5 371 H1714" stroke="#000" stroke-width="1.6" fill="none"/>
<path d="M1714 369.3 H1904" stroke="#000" stroke-width="1.3" fill="none"/>
<path d="M111.5 38.5 V791.4" stroke="#000" stroke-width="1.5" fill="none"/>
<path d="M101 791.5 H111.5" stroke="#000" stroke-width="1.4"/>
<text x="91.2" y="797.5" font-size="16" font-weight="bold" text-anchor="end" textLength="9.5" lengthAdjust="spacingAndGlyphs">0</text>
<path d="M101 675.3 H111.5" stroke="#000" stroke-width="1.4"/>
<text x="91.2" y="681.3" font-size="16" font-weight="bold" text-anchor="end" textLength="9.5" lengthAdjust="spacingAndGlyphs">2</text>
<path d="M101 560.1 H111.5" stroke="#000" stroke-width="1.4"/>
<text x="91.2" y="566.1" font-size="16" font-weight="bold" text-anchor="end" textLength="9.5" lengthAdjust="spacingAndGlyphs">4</text>
<path d="M101 444.6 H111.5" stroke="#999" stroke-width="0.8"/>
<text x="91.2" y="450.6" font-size="16" font-weight="bold" text-anchor="end" textLength="9.5" lengthAdjust="spacingAndGlyphs">6</text>
<path d="M101 329.9 H111.5" stroke="#000" stroke-width="1.4"/>
<text x="91.2" y="335.9" font-size="16" font-weight="bold" text-anchor="end" textLength="9.5" lengthAdjust="spacingAndGlyphs">8</text>
<path d="M101 214.4 H111.5" stroke="#000" stroke-width="1.4"/>
<text x="91.2" y="220.4" font-size="16" font-weight="bold" text-anchor="end" textLength="19" lengthAdjust="spacingAndGlyphs">10</text>
<path d="M101 97.5 H111.5" stroke="#000" stroke-width="1.4"/>
<text x="91.2" y="103.5" font-size="16" font-weight="bold" text-anchor="end" textLength="19" lengthAdjust="spacingAndGlyphs">12</text>
<path d="M110.8 821.8 H1904" stroke="#000" stroke-width="1.5"/>
<path d="M111.5 821.8 V832" stroke="#000" stroke-width="1.4"/>
<text x="111.5" y="857.5" font-size="16" font-weight="bold" text-anchor="middle" textLength="29.4" lengthAdjust="spacingAndGlyphs">Chr</text>
<path d="M189.5 821.8 V832" stroke="#000" stroke-width="1.4"/>
<text x="189.5" y="857.5" font-size="16" font-weight="bold" text-anchor="middle" textLength="9.4" lengthAdjust="spacingAndGlyphs">1</text>
<path d="M329 821.8 V832" stroke="#000" stroke-width="1.4"/>
<text x="329" y="857.5" font-size="16" font-weight="bold" text-anchor="middle" textLength="9.4" lengthAdjust="spacingAndGlyphs">2</text>
<path d="M455 821.8 V832" stroke="#000" stroke-width="1.4"/>
<text x="455" y="857.5" font-size="16" font-weight="bold" text-anchor="middle" textLength="9.4" lengthAdjust="spacingAndGlyphs">3</text>
<path d="M567.5 821.8 V832" stroke="#000" stroke-width="1.4"/>
<text x="567.5" y="857.5" font-size="16" font-weight="bold" text-anchor="middle" textLength="9.4" lengthAdjust="spacingAndGlyphs">4</text>
<path d="M676.5 821.8 V832" stroke="#000" stroke-width="1.4"/>
<text x="676.5" y="857.5" font-size="16" font-weight="bold" text-anchor="middle" textLength="9.4" lengthAdjust="spacingAndGlyphs">5</text>
<path d="M781.5 821.8 V832" stroke="#000" stroke-width="1.4"/>
<text x="781.5" y="857.5" font-size="16" font-weight="bold" text-anchor="middle" textLength="9.4" lengthAdjust="spacingAndGlyphs">6</text>
<path d="M878.5 821.8 V832" stroke="#000" stroke-width="1.4"/>
<text x="878.5" y="857.5" font-size="16" font-weight="bold" text-anchor="middle" textLength="9.4" lengthAdjust="spacingAndGlyphs">7</text>
<path d="M970.5 821.8 V832" stroke="#000" stroke-width="1.4"/>
<text x="970.5" y="857.5" font-size="16" font-weight="bold" text-anchor="middle" textLength="9.4" lengthAdjust="spacingAndGlyphs">8</text>
<path d="M1057.5 821.8 V832" stroke="#000" stroke-width="1.4"/>
<text x="1057.5" y="857.5" font-size="16" font-weight="bold" text-anchor="middle" textLength="9.4" lengthAdjust="spacingAndGlyphs">9</text>
<path d="M1141.5 821.8 V832" stroke="#000" stroke-width="1.4"/>
<text x="1141.5" y="857.5" font-size="16" font-weight="bold" text-anchor="middle" textLength="18.9" lengthAdjust="spacingAndGlyphs">10</text>
<path d="M1224.5 821.8 V832" stroke="#000" stroke-width="1.4"/>
<text x="1224.5" y="857.5" font-size="16" font-weight="bold" text-anchor="middle" textLength="18.9" lengthAdjust="spacingAndGlyphs">11</text>
<path d="M1306.5 821.8 V832" stroke="#000" stroke-width="1.4"/>
<text x="1306.5" y="857.5" font-size="16" font-weight="bold" text-anchor="middle" textLength="18.9" lengthAdjust="spacingAndGlyphs">12</text>
<path d="M1384.5 821.8 V832" stroke="#000" stroke-width="1.4"/>
<text x="1384.5" y="857.5" font-size="16" font-weight="bold" text-anchor="middle" textLength="18.9" lengthAdjust="spacingAndGlyphs">13</text>
<path d="M1455 821.8 V832" stroke="#000" stroke-width="1.4"/>
<text x="1455" y="857.5" font-size="16" font-weight="bold" text-anchor="middle" textLength="18.9" lengthAdjust="spacingAndGlyphs">14</text>
<path d="M1524 821.8 V832" stroke="#000" stroke-width="1.4"/>
<text x="1524" y="857.5" font-size="16" font-weight="bold" text-anchor="middle" textLength="18.9" lengthAdjust="spacingAndGlyphs">15</text>
<path d="M1586.5 821.8 V832" stroke="#000" stroke-width="1.4"/>
<text x="1586.5" y="857.5" font-size="16" font-weight="bold" text-anchor="middle" textLength="18.9" lengthAdjust="spacingAndGlyphs">16</text>
<path d="M1647 821.8 V832" stroke="#000" stroke-width="1.4"/>
<text x="1647" y="857.5" font-size="16" font-weight="bold" text-anchor="middle" textLength="18.9" lengthAdjust="spacingAndGlyphs">17</text>
<path d="M1703.5 821.8 V832" stroke="#000" stroke-width="1.4"/>
<text x="1703.5" y="857.5" font-size="16" font-weight="bold" text-anchor="middle" textLength="18.9" lengthAdjust="spacingAndGlyphs">18</text>
<path d="M1752.5 821.8 V832" stroke="#000" stroke-width="1.4"/>
<text x="1752.5" y="857.5" font-size="16" font-weight="bold" text-anchor="middle" textLength="18.9" lengthAdjust="spacingAndGlyphs">19</text>
<path d="M1798.5 821.8 V832" stroke="#000" stroke-width="1.4"/>
<text x="1798.5" y="857.5" font-size="16" font-weight="bold" text-anchor="middle" textLength="18.9" lengthAdjust="spacingAndGlyphs">20</text>
<path d="M1842.5 821.8 V832" stroke="#000" stroke-width="1.4"/>
<text x="1842.5" y="857.5" font-size="16" font-weight="bold" text-anchor="middle" textLength="18.9" lengthAdjust="spacingAndGlyphs">21</text>
<path d="M1882.5 821.8 V832" stroke="#000" stroke-width="1.4"/>
<text x="1882.5" y="857.5" font-size="16" font-weight="bold" text-anchor="middle" textLength="18.9" lengthAdjust="spacingAndGlyphs">22</text>
<path d="M177.5 31 L205 276" stroke="#444" stroke-width="0.9" stroke-dasharray="3.5 2.5" fill="none"/>
<path d="M1482.5 223.5 L1460 318.5" stroke="#444" stroke-width="0.9" stroke-dasharray="3.5 2.5" fill="none"/>
<text x="37.5" y="21.5" font-size="24.2" textLength="280" lengthAdjust="spacingAndGlyphs">rs35749011 (<tspan font-style="italic">KRTCAP2</tspan>)</text>
<text x="244.5" y="140" font-size="24.2" textLength="225" lengthAdjust="spacingAndGlyphs">rs1474055 (<tspan font-style="italic">STK39</tspan>)</text>
<text x="459.5" y="75.8" font-size="24.2" textLength="204.3" lengthAdjust="spacingAndGlyphs">rs356203 (<tspan font-style="italic">SNCA</tspan>)</text>
<text x="1154.5" y="288.8" font-size="24.2" textLength="245" lengthAdjust="spacingAndGlyphs">rs34637584 (<tspan font-style="italic">LRRK2</tspan>)</text>
<text x="1367.5" y="212.5" font-size="24.2" textLength="218" lengthAdjust="spacingAndGlyphs">rs7155501 (<tspan font-style="italic">GCH1</tspan>)</text>
<text x="1514.5" y="55.5" font-size="24.2" textLength="251" lengthAdjust="spacingAndGlyphs">rs56214516 (<tspan font-style="italic">CRHR1</tspan>)</text>
<text x="1680.5" y="263.8" font-size="24.2" textLength="204" lengthAdjust="spacingAndGlyphs">rs429358 (<tspan font-style="italic">APOE</tspan>)</text>
<text x="18.8" y="822" font-size="45.5">(a)</text><text transform="translate(38.8 471.5) rotate(-90)" font-size="25.5" textLength="112" lengthAdjust="spacingAndGlyphs">−log<tspan font-size="17" dy="4">10</tspan><tspan dy="-4">(</tspan><tspan font-style="italic">p</tspan>)</text>
<path d="M120.2 1395.9 H1987" stroke="#adadad" stroke-width="0.7" stroke-dasharray="5 4" fill="none"/>
<g fill="#4197d8"><path d="M130 1616.5 L130 1508.8 L133 1506.8 L133 1506.8 L133.2 1494.8 L140.3 1490.8 L148.3 1491.8 L160.4 1489.8 L170.5 1485.8 L180.6 1481.8 L186.6 1474.7 L194.7 1474.7 L199.7 1492.8 L211.8 1490.8 L224.9 1491.8 L232.9 1489.8 L239 1477.7 L247 1472.7 L253.1 1473.7 L261.1 1474.7 L267.2 1498.9 L271.2 1514.9 L271.5 1514.9 L273.5 1516.9 L273.5 1616.5 Q273.5 1621 269 1621 L134.5 1621 Q130 1621 130 1616.5Z"/><rect x="251.2" y="1405.4" width="11" height="76.7" rx="4.9"/><rect x="251.7" y="1385.7" width="10" height="11.3" rx="4.9"/><rect x="212.6" y="1433.6" width="10.5" height="65.6" rx="4.9"/><path fill="none" stroke="#4197d8" stroke-width="9.8" stroke-linecap="round" d="M134.7 1492.8V1514.8M135.9 1485.8V1514.8M268.8 1499.5V1522.9M267.8 1493V1522.9M136.9 1464.5V1498.6M139.1 1487.4V1497.4M141.4 1470.5V1497M144.8 1473.6V1497.4M144.6 1464.8h0M147.9 1482.1V1497.7M150.4 1472.2V1497.6M152.5 1463.7V1497.2M154.4 1472.5V1496.8M153.3 1465.9h0M158 1465.2V1496.3M157.9 1454.4h0M160.9 1463.3V1495.6M163 1462.4V1494.7M163.3 1456.8h0M165.9 1478.6V1493.5M168.9 1465V1492.4M171.7 1455.8V1491.5M173.1 1455.9V1490.6M175.6 1458.3V1489.7M177.8 1454.2V1488.7M180.9 1451V1487.4M184.1 1448.3V1483.9M183.1 1443.1h0M186.3 1466.9V1480.8M189.7 1461.7V1480.7M195.9 1472.5V1485.1M202.2 1470.9V1498.4M208.9 1480V1497.3M215.2 1461.5V1497.1M218.2 1464.1V1497.3M218 1453.2h0M221.6 1468.1V1497.6M225 1462.1V1497.8M227.4 1463.7V1497.1M231.1 1466.8V1496.4M233.8 1471.1V1493.9M237.5 1453.1V1487.5M238.5 1443.4h0M240 1464.5V1482.9M242.8 1463.6V1481.2M246.2 1447.5V1479.4M252.3 1469.4V1479.6M258.9 1446.4V1480.4M258.6 1441.3h0M261.9 1453.4V1483.3M263.9 1460.6V1492.5M263.4 1451.4h0M266.6 1475.9V1504.2M137.1 1463.7h0M177.6 1449.6h0M186.3 1438.4h0M217.5 955.5h0M217.5 958.8h0M217.5 993.8h0M217.5 1000h0M217.5 1008h0M217.5 1013.2h0M217.5 1055.8h0M217.5 1065h0M217.5 1068h0M217.5 1123.2h0M217.8 1220.1h0M217.8 1227.2h0M217.8 1235.2h0M217.8 1250.4h0M217.8 1260h0M217.8 1270.1h0M217.8 1309.8h0M217.8 1327.9h0M217.8 1330.9h0M217.8 1385.7h0M217.8 1398.4h0M217.8 1405.4h0M138.3 1380.3h0M195.7 1394h0M170.9 1419.5h0M137.3 1427.2h0M238 1427.6h0M265.2 1429.6h0M138.3 1435.6h0M146.3 1445.7h0M161.4 1446.7h0M184.6 1440.7h0M192.6 1440.7h0M267.2 1448.7h0M154.4 1453.8h0M140.3 1444.7h0M222.9 1440.7h0M209.8 1458.8h0M245 1439.7h0M232.9 1449.7h0M261.1 1459.8h0M266.2 1468.9h0M136.3 1467.9h0M200.7 1482h0"/></g><path fill="#fff" d="M199 1422 L212.5 1422 L212.2 1439 L209.7 1470 L208.5 1495 L208.2 1519 L207.2 1544 L206.6 1569 L206.2 1594 L206.2 1615 L207.2 1621.6 L204.6 1621.6 L205.6 1615 L205.6 1594 L205.4 1569 L205 1544 L203.8 1519 L202.9 1495 L199.8 1470 L199.2 1439Z"/>
<g fill="#f8c120"><path d="M278.5 1616.5 L278.5 1509.8 L281.5 1507.8 L281.5 1496.9 L285.3 1491.8 L297.4 1487.8 L309.5 1482.8 L319.5 1500.9 L325.6 1482.8 L333.6 1498.9 L341.7 1482.8 L349.7 1478.7 L357.8 1482.8 L365.9 1491.8 L373.9 1474.7 L382 1485.8 L392 1480.7 L402.1 1484.8 L410.2 1495.9 L415.2 1499.9 L415.5 1511.9 L417.5 1513.9 L417.5 1616.5 Q417.5 1621 413 1621 L283 1621 Q278.5 1621 278.5 1616.5Z"/><rect x="368.2" y="1242.7" width="10.3" height="22.8" rx="4.9"/><rect x="368.2" y="1270.9" width="10.3" height="33.8" rx="4.9"/><path fill="none" stroke="#f8c120" stroke-width="9.8" stroke-linecap="round" d="M283.2 1493.8V1515.8M284.4 1486.8V1515.8M412.8 1496.5V1519.9M411.8 1490V1519.9M285.5 1466.8V1497.7M288.3 1463.3V1496.7M290.9 1463V1496M290.5 1453.5h0M293.1 1460.2V1495.2M296.2 1464.2V1494.1M299.6 1460.8V1493M301.9 1457.3V1492.1M302.2 1451.3h0M304 1455.8V1491.2M303 1445.1h0M305.6 1459.6V1490.2M309 1461.3V1489.1M311.3 1459.4V1492.4M312.2 1451.5h0M314.8 1463.2V1497.6M317.6 1470.8V1502.8M318.3 1462.4h0M320.9 1489.4V1503.7M323.9 1476.2V1494.3M326.9 1457.5V1491M329.5 1466V1497.3M332.4 1476.4V1502.7M332.3 1468.4h0M335.4 1483.4V1501.2M338.8 1465.4V1494.8M342.2 1469V1488.6M345.3 1452.4V1487M351.5 1475.2V1485.6M357.5 1459.2V1488.8M360.9 1471.8V1492.1M361.8 1464.8h0M367.1 1473.4V1495.2M373 1452.2V1481.8M376.7 1465V1484.3M379.6 1464V1488.2M380.4 1454.1h0M381.3 1461.5V1491M381.8 1452.2h0M384 1456.5V1490.8M387.8 1459.8V1489.1M387.3 1454h0M390.3 1463.9V1487.6M392.9 1458.6V1487.1M395.6 1451.9V1488.3M399.4 1453.3V1489.6M401.7 1481V1490.5M403.8 1461.2V1493.4M403 1454h0M406.7 1467.2V1497.7M406.1 1457.6h0M410.8 1479.5V1502.1M409.3 1471.1h0M285.6 1463.7h0M319.7 1472.5h0M330 1458.4h0M347.5 1450.7h0M364.8 1455.5h0M370.3 1451.7h0M374.8 1446.1h0M408.9 1463h0M373.3 1321.5h0M327.6 1397.4h0M325.6 1411.1h0M358.4 1411.9h0M372.9 1413.9h0M398.1 1420.5h0M285.3 1424h0M359.8 1422.6h0M308.5 1429.2h0M298.4 1433.6h0M322.6 1431.6h0M324.6 1435.6h0M396.1 1431.6h0M390 1436.7h0M286.3 1440.7h0M359.8 1436.7h0M372.9 1437.7h0M408.2 1446.1h0M289.3 1445.7h0M341.7 1446.7h0M309.5 1450.8h0M325.6 1450.8h0M398.1 1441.7h0M333.6 1471.9h0M315.5 1467.9h0"/></g>
<g fill="#413496"><path d="M422.5 1616.5 L422.5 1493.7 L425.5 1491.7 L425.5 1491.7 L426.3 1491.7 L434.3 1475.7 L442.4 1473.7 L454.5 1473.7 L468.6 1471.7 L482.7 1467.7 L492.7 1479.7 L500 1473.7 L500.1 1489.8 L508.2 1493.8 L516.3 1502.9 L520.3 1491.8 L530.4 1491.8 L534.4 1501.9 L535.5 1507.8 L537.5 1509.8 L537.5 1616.5 Q537.5 1621 533 1621 L427 1621 Q422.5 1621 422.5 1616.5Z"/><rect x="519.5" y="1396.4" width="10.5" height="103.5" rx="4.9"/><rect x="497.5" y="1427.6" width="10.5" height="71.5" rx="4.9"/><path fill="none" stroke="#413496" stroke-width="9.8" stroke-linecap="round" d="M427.2 1477.7V1499.7M428.4 1470.7V1499.7M532.8 1492.4V1515.8M531.8 1486V1515.8M429.7 1462.8V1491.1M428.8 1451.8h0M432.5 1453.4V1486.1M433.7 1459.2V1482M433.4 1448.7h0M437.3 1462.7V1481M439.6 1472.6V1480.5M440.3 1466.7h0M441.9 1456.7V1479.9M448.1 1464.8V1479.7M454.8 1454V1479.7M460.4 1463.8V1478.9M466 1443V1478M466.8 1437.8h0M468.9 1445.2V1477.5M472.5 1441.4V1476.5M473.3 1431.3h0M474.4 1444.2V1475.9M477.4 1453.4V1475M480.7 1443.7V1474.3M484 1439.6V1474.8M490.1 1472.6V1482.5M496.9 1459.8V1482.6M498.7 1445.7V1480.7M501.7 1469.2V1496.5M504.2 1465.4V1498M510.4 1493V1502.3M516.6 1479.9V1508.8M518.9 1491.1V1501.2M521.9 1466V1497.8M524.6 1463V1497.8M526.9 1479V1497.8M529.5 1474.7V1497.8M429.6 1457h0M436.4 1446.3h0M462.2 1444.4h0M470.8 1441h0M488.5 1445.6h0M531 1464.9h0M429.7 1417.5h0M465.6 1422h0M439.4 1433.6h0M428.9 1438.7h0M471.6 1435.6h0M482.7 1434.6h0M476.6 1434.6h0M458.5 1441.7h0M446.4 1440.7h0M432.3 1449.7h0M427.3 1459.8h0M490.7 1441.7h0M503.2 1409.1h0M532.4 1454.8h0M494.1 1451.8h0M485 1434.6h0M481 1435.6h0M531.4 1469.9h0"/></g>
<g fill="#495226"><path d="M542.5 1616.5 L542.5 1494.8 L545.5 1492.8 L554.5 1481.8 L564.6 1493.8 L572.6 1483.8 L580.7 1491.8 L588.8 1482.8 L600.8 1475.7 L610.9 1477.7 L621 1489.8 L629 1485.8 L637.1 1477.7 L645.2 1489.8 L651.2 1497.9 L652 1505.8 L654 1507.8 L654 1616.5 Q654 1621 649.5 1621 L547 1621 Q542.5 1621 542.5 1616.5Z"/><rect x="543.6" y="1390.9" width="10.5" height="105.7" rx="4.9"/><rect x="590.6" y="1190" width="10.5" height="81" rx="4.9"/><rect x="590.6" y="1314.4" width="10.5" height="53.2" rx="4.9"/><rect x="584.7" y="1398.4" width="17" height="89.8" rx="4.9"/><path fill="none" stroke="#495226" stroke-width="9.8" stroke-linecap="round" d="M547.2 1478.8V1500.8M548.4 1471.8V1500.8M649.3 1490.4V1513.8M648.3 1484V1513.8M549.8 1469.6V1493.8M548.5 1464h0M551.7 1455.7V1490.7M553.2 1449.9h0M554.3 1458V1487.9M557.5 1461.4V1490.9M559.9 1462.4V1494.6M559.9 1455.2h0M563.2 1462.1V1497.8M569 1472V1494.3M575.4 1457.9V1492.3M574 1450h0M577.4 1477.4V1494.6M579.8 1461.3V1496.7M582.9 1460.3V1495.3M585.7 1457V1491.7M588.6 1453.6V1488.8M589.3 1446.4h0M591.8 1453.7V1486.8M592.6 1445.6h0M598.3 1471.4V1483.2M604.6 1452.8V1482.4M607.9 1451.5V1483.1M611.3 1447.9V1483.7M610 1442.6h0M613.3 1454V1486.3M615.4 1454.7V1489.4M619.5 1456.9V1493.4M621.9 1466.9V1495.2M624.9 1487.4V1494M624.3 1481.4h0M626.8 1469.2V1493M629.5 1458.9V1491.8M628 1450.8h0M632.4 1458.8V1488.5M635.9 1454.3V1485.3M638.5 1451V1486.3M638.2 1444.2h0M642.1 1456.5V1491.2M645.1 1461.5V1495.5M554.4 1447.1h0M560.7 1457.6h0M565.7 1463.1h0M606.6 1439.3h0M613.7 1451.4h0M621.6 1459.9h0M646.8 1463.3h0M596.2 1020.8h0M596.2 1056.8h0M596.2 1063.8h0M596.2 1179.2h0M548.8 1179.2h0M548.9 1245.9h0M548.9 1304.7h0M548.9 1314.8h0M548.9 1355.1h0M548.9 1362.1h0M595.8 1279.6h0M595.8 1289.6h0M595.8 1305.7h0M595.8 1379.3h0M588.8 1388.3h0M567.6 1394.4h0M578.7 1426.6h0M559.6 1431.6h0M626 1425.6h0M635.1 1420.5h0M644.1 1420.5h0M625 1438.7h0M637.1 1440.7h0M572.6 1451.8h0M561.6 1456.8h0M610.9 1446.7h0M645.2 1454.8h0M555.5 1438.7h0M580.7 1435.6h0M641.1 1447.7h0M650.2 1457.8h0M619 1449.7h0"/></g>
<g fill="#d60b6f"><path d="M660 1616.5 L660 1519.9 L663 1517.9 L663 1517.9 L663.3 1513 L668.3 1501.9 L685.4 1472.7 L689.5 1491.8 L697.5 1483.8 L705.6 1493.8 L713.6 1489.8 L731.8 1479.7 L741.8 1477.7 L749.9 1473.7 L757.9 1483.8 L763 1491.8 L764 1499.8 L766 1501.8 L766 1616.5 Q766 1621 761.5 1621 L664.5 1621 Q660 1621 660 1616.5Z"/><rect x="672.9" y="1390.9" width="11" height="101.8" rx="4.9"/><rect x="720.5" y="1423.2" width="10.5" height="67.9" rx="4.9"/><path fill="none" stroke="#d60b6f" stroke-width="9.8" stroke-linecap="round" d="M664.7 1503.9V1525.9M665.9 1496.9V1525.9M761.3 1484.4V1507.8M760.3 1477.9V1507.8M667 1474.5V1510.6M673.4 1490.9V1499.2M679.5 1453.7V1488.5M681.6 1448.6V1484.7M685.1 1443V1479.4M688.1 1459.9V1492.5M691.6 1472.6V1495.7M690.1 1464.4h0M694.1 1464.8V1493.4M693.1 1458.2h0M697.7 1468.9V1490M699.8 1459.6V1492.6M705.5 1478.3V1499.8M711.5 1483.8V1497M714.7 1464.9V1495.5M720.1 1479.7V1492.2M726.1 1456V1489M729.2 1460.4V1487.3M731.4 1473.4V1486M730.4 1464.9h0M734.3 1454.8V1485.2M740.7 1463.5V1484M747.3 1453.3V1481.1M750.2 1450.3V1480.3M749.6 1440.7h0M753.7 1456.9V1484.1M756.4 1465.8V1487.9M757.7 1455.6h0M758.7 1476V1491M671.5 1467h0M677.5 1455h0M682.3 1448h0M708.9 1462.4h0M715.4 1460.7h0M734.3 1451h0M747.1 1445.6h0M755.7 1448.5h0M755.5 1377.2h0M725.7 1394.4h0M749.9 1405.8h0M696.5 1408.5h0M693.5 1411.5h0M725.7 1413.5h0M698.5 1437.7h0M746.9 1433.6h0M756.9 1435.6h0M665.3 1448.7h0M709.6 1449.7h0M685.4 1396.4h0M684.4 1421.6h0M686.4 1431.6h0M757.9 1445.7h0M743.8 1443.7h0M701.6 1451.8h0"/></g>
<g fill="#e66519"><path d="M772 1616.5 L772 1501.8 L775 1499.8 L775 1499.8 L775.1 1481.8 L782.1 1483.8 L789.2 1491.8 L800.2 1473.7 L808.3 1471.7 L818.4 1483.8 L826.4 1481.8 L834.5 1487.8 L842.5 1491.8 L852.6 1485.8 L860.7 1489.8 L867.1 1496.9 L869.9 1505.8 L870 1505.8 L872 1507.8 L872 1616.5 Q872 1621 867.5 1621 L776.5 1621 Q772 1621 772 1616.5Z"/><rect x="789.5" y="1312.4" width="10.3" height="37.1" rx="4.9"/><rect x="789.5" y="1371.8" width="10.3" height="15.1" rx="4.9"/><rect x="789.1" y="1393" width="11" height="98" rx="4.9"/><path fill="none" stroke="#e66519" stroke-width="9.8" stroke-linecap="round" d="M776.7 1485.8V1507.8M777.9 1478.8V1507.8M867.3 1490.4V1513.8M866.3 1484V1513.8M779.1 1455.5V1488.9M781 1455.4V1489.5M783.7 1460.9V1491.4M786.1 1463.7V1494.4M788.8 1461V1496.9M789.3 1454h0M791.1 1479.3V1495.3M793.4 1461V1490.3M797.1 1453.4V1485.1M799.7 1447.7V1481M802.4 1460V1479.3M804.9 1444.2V1478.5M808.3 1441.9V1478M811.8 1457.1V1481.8M813.9 1449.3V1484.8M816.7 1462.5V1488.3M820.2 1465.3V1489.4M819.3 1458.8h0M822 1478.3V1488.8M821 1468.8h0M824.7 1459.9V1488.1M827.8 1454.8V1488.6M830.4 1463V1490.7M833.3 1467.2V1493.1M836.5 1463.1V1495M839.6 1460.9V1496.5M843.4 1464.6V1497.5M844.2 1453.6h0M846 1461.4V1496M845 1454.4h0M847.5 1464.9V1494.6M850.3 1462.6V1493M853.4 1456.9V1492.3M853.7 1446.5h0M857.5 1461.8V1494M859.7 1459V1495.4M862.2 1468.4V1498M862.2 1459.1h0M865.1 1468.1V1500.5M792.9 1452.2h0M800.6 1436.9h0M806.4 1443.9h0M835 1459.6h0M845.9 1461.1h0M850.2 1458.1h0M856.3 1457.6h0M794.6 1301.7h0M794.6 1355.1h0M778.1 1382.3h0M778.1 1403h0M782.1 1416.5h0M778.1 1429.6h0M865.7 1423.6h0M829.4 1428.6h0M837.5 1427.6h0M842.5 1427.6h0M851.6 1429.6h0M820.4 1434.6h0M836.5 1436.7h0M848.6 1439.7h0M806.3 1439.7h0M852.6 1451.8h0M778.1 1449.7h0M866 1423.6h0"/></g>
<g fill="#d581b7"><path d="M877 1616.5 L877 1491.7 L880 1489.7 L880 1489.7 L880.1 1489.7 L884.2 1473.7 L900.3 1473.7 L903.3 1489.8 L912.4 1487.8 L927.5 1479.7 L936.5 1489.8 L944.6 1481.8 L952.6 1495.9 L960.7 1501.9 L968.8 1513 L970.5 1517.9 L970.5 1517.9 L972.5 1519.9 L972.5 1616.5 Q972.5 1621 968 1621 L881.5 1621 Q877 1621 877 1616.5Z"/><rect x="916.9" y="1426.6" width="11" height="63.8" rx="4.9"/><path fill="none" stroke="#d581b7" stroke-width="9.8" stroke-linecap="round" d="M881.7 1475.7V1497.7M882.9 1468.7V1497.7M967.8 1502.5V1525.9M966.8 1496.1V1525.9M884.2 1456.4V1480M883.1 1451h0M887.3 1447.7V1479.7M890.5 1443.9V1479.7M891.5 1434.5h0M893.2 1445.4V1479.7M895.7 1447.9V1479.7M899.4 1455.5V1479.7M902.3 1479.6V1488.6M901.4 1471.8h0M904.3 1462.2V1495.6M907.5 1466.4V1494.9M909.7 1461.3V1494.4M912.5 1465.6V1493.8M911.3 1460.3h0M914 1462.9V1492.7M917.9 1472.5V1491.1M918.8 1464.9h0M920.4 1453.8V1489.4M921.6 1444.3h0M923.4 1453.9V1487.7M925.7 1452.1V1486.5M929.3 1462.7V1487.9M933 1463.8V1491.6M931.8 1457.9h0M935.3 1471.3V1495M939 1467.4V1493.7M941.2 1473.2V1491.2M940.2 1465.9h0M943.5 1458V1489.2M949.7 1479.4V1496.7M956.1 1469.5V1504.5M959.3 1479.2V1507M963.3 1475.8V1510.8M966 1491.2V1515M966.9 1483.3h0M884.1 1438h0M891.1 1441.4h0M911.5 1455.5h0M915.9 1457.5h0M930.3 1451h0M936.9 1459.4h0M943.8 1451.4h0M886.2 1403.4h0M948.6 1384.3h0M954.7 1384.3h0M961.7 1425.6h0M961.7 1430.6h0M938.5 1439.7h0M948.6 1437.7h0M956.7 1449.7h0M962.7 1450.8h0M964.7 1461.8h0M968.8 1465.9h0M916.4 1441.7h0M910.4 1455.8h0M928.5 1447.7h0M944.6 1449.7h0"/></g>
<g fill="#83d3ad"><path d="M978 1616.5 L978 1497.7 L981 1495.7 L981 1495.7 L991.9 1479.7 L1001 1481.8 L1013.1 1483.8 L1025.2 1481.8 L1037.2 1483.8 L1049.3 1485.8 L1057.4 1489.8 L1063.4 1493.8 L1064 1505.8 L1064 1505.8 L1066 1507.8 L1066 1616.5 Q1066 1621 1061.5 1621 L982.5 1621 Q978 1621 978 1616.5Z"/><rect x="980.4" y="1384.9" width="11" height="111.7" rx="4.9"/><path fill="none" stroke="#83d3ad" stroke-width="9.8" stroke-linecap="round" d="M982.7 1481.7V1503.7M983.9 1474.7V1503.7M1061.3 1490.4V1513.8M1060.3 1484V1513.8M985.5 1467.4V1495.7M987.9 1459.4V1491.8M989.2 1451.1h0M989.8 1462.2V1488.6M992.4 1451.9V1485.8M991.9 1444h0M995.4 1451.8V1486.4M993.9 1441.9h0M997.7 1455.7V1486.9M999.3 1453.9V1487.5M1003.3 1451.9V1488.1M1006.4 1462.1V1488.6M1008.6 1455V1489.1M1011.1 1467.7V1489.5M1013.9 1467.2V1489.6M1015 1460h0M1017.3 1453.7V1489.1M1019.6 1453.4V1488.6M1023 1452.5V1488.2M1025.5 1464.3V1487.8M1029.5 1462.7V1488.4M1027.6 1454.4h0M1031.9 1456.2V1488.9M1034.2 1463.9V1489.3M1034.5 1453.1h0M1037.6 1466.6V1489.8M1043.4 1469.6V1490.8M1048.8 1463V1491.8M1052.4 1458.7V1493.4M1055.2 1460.1V1494.9M1058.3 1467.3V1496.1M985.1 1457.9h0M998.9 1452.8h0M1003.5 1451.5h0M1010.7 1453.3h0M1026.8 1452.4h0M1041.6 1454.6h0M1047.2 1453.1h0M985.9 1361.1h0M985.9 1371.2h0M993.9 1372.2h0M989.9 1367.2h0M999 1399.4h0M992.9 1398.4h0M1006 1408.5h0M1011.1 1410.5h0M1020.1 1412.5h0M1047.3 1397.8h0M1041.3 1409.5h0M1046.3 1409.5h0M1004 1435.6h0M1021.1 1436.7h0M1033.2 1434.6h0M1041.3 1429.6h0M1038.2 1442.7h0M1005 1445.7h0M1015.1 1441.7h0M1025.2 1444.7h0M1041.3 1451.8h0M1049.3 1453.8h0"/></g>
<g fill="#7c162c"><path d="M1071 1616.5 L1071 1507.8 L1074 1505.8 L1074 1505.8 L1074 1491.8 L1080.5 1489.8 L1091.6 1491.8 L1095.6 1493.8 L1111.8 1490.8 L1119.8 1473.7 L1129.9 1475.7 L1151 1483.8 L1152 1491.7 L1152 1491.7 L1154 1493.7 L1154 1616.5 Q1154 1621 1149.5 1621 L1075.5 1621 Q1071 1621 1071 1616.5Z"/><rect x="1080.1" y="1422.2" width="11" height="76.6" rx="4.9"/><rect x="1137.1" y="1426.6" width="13" height="62.3" rx="4.9"/><path fill="none" stroke="#7c162c" stroke-width="9.8" stroke-linecap="round" d="M1075.7 1491.8V1513.8M1076.9 1484.8V1513.8M1149.3 1476.3V1499.7M1148.3 1469.9V1499.7M1077.7 1473.6V1496.6M1077.6 1468.1h0M1080.7 1462.4V1495.8M1083.1 1460.2V1496.2M1085.3 1465.7V1496.6M1087.5 1471.4V1497.1M1090.7 1470.1V1497.6M1092.6 1467.2V1498.4M1091.5 1458.1h0M1095.3 1465.7V1499.6M1098.6 1484.9V1499.4M1100.5 1462.9V1498.9M1103.9 1465.8V1498.3M1103.9 1460h0M1107.4 1474.7V1497.7M1107.6 1464.9h0M1109.2 1476.9V1497.3M1112.9 1470.9V1495.5M1118.1 1471.3V1483.3M1124.3 1457.1V1480.5M1125.9 1444.8V1481M1126 1434.5h0M1129 1455.2V1481.5M1131.9 1447.1V1482.6M1134.4 1453.5V1483.5M1137.5 1450.5V1484.6M1137.5 1443.8h0M1140.8 1452.2V1485.7M1143 1456.7V1486.6M1145.6 1453.1V1487.8M1078.1 1461.8h0M1098.7 1465.1h0M1104.2 1454.4h0M1123 1446h0M1144.6 1350.1h0M1144.6 1374.2h0M1119.2 1393.4h0M1122.2 1426.6h0M1141 1428.6h0M1149 1429.6h0M1115.8 1442.7h0M1126.9 1442.7h0M1114.8 1458.8h0M1112.8 1473.9h0M1090.6 1435.6h0M1093.6 1457.8h0M1077.5 1459.8h0"/></g><path fill="#fff" d="M1091.6 1436 L1111.5 1436 L1111.2 1464 L1109 1485 L1107.6 1514 L1106.2 1542 L1104.8 1578 L1104.1 1588 L1103.4 1578 L1102 1542 L1101.2 1514 L1097 1485 L1091.8 1464Z"/>
<g fill="#26755d"><path d="M1160 1616.5 L1160 1519.9 L1163 1517.9 L1163 1517.9 L1163 1503.9 L1170.2 1501.9 L1172.2 1479.7 L1180.2 1472.7 L1190.3 1472.7 L1198.4 1475.7 L1210.5 1469.7 L1222.5 1469.7 L1234.6 1475.7 L1237.6 1491.7 L1239.5 1491.7 L1239.5 1491.7 L1241.5 1493.7 L1241.5 1616.5 Q1241.5 1621 1237 1621 L1164.5 1621 Q1160 1621 1160 1616.5Z"/><rect x="1174.7" y="1411.5" width="11" height="69.2" rx="4.9"/><rect x="1186.1" y="1431.6" width="10.5" height="49.4" rx="4.9"/><path fill="none" stroke="#26755d" stroke-width="9.8" stroke-linecap="round" d="M1164.7 1503.9V1525.9M1165.9 1496.9V1525.9M1236.8 1476.3V1499.7M1235.8 1469.9V1499.7M1167 1487.9V1508.8M1170.1 1468.5V1504.7M1173.6 1454.4V1484.5M1174.5 1447.2h0M1176.8 1453.4V1481.6M1179.2 1462.7V1479.8M1181.3 1446.2V1478.7M1184 1448.6V1478.7M1186.8 1460.9V1478.7M1188.7 1452.7V1478.7M1192.6 1454.5V1479.4M1194.5 1462.3V1480.4M1197.9 1464.7V1481.6M1200.9 1444.4V1480.2M1203.5 1444.1V1478.9M1205.9 1443V1477.9M1209.4 1442.5V1476.4M1209 1434.5h0M1212 1444.2V1475.7M1214.4 1467.6V1475.7M1215 1459.4h0M1217.4 1451.9V1475.7M1219.4 1440.9V1475.7M1221.4 1442V1475.7M1224 1445.7V1476.3M1226.7 1443V1477.7M1228.4 1445.3V1478.8M1231.1 1450.7V1480.1M1234.5 1454.9V1481.5M1193.3 1443h0M1221.2 1435h0M1213.9 1371.8h0M1229.2 1378.9h0M1225.6 1383.7h0M1172.6 1388.9h0M1200.4 1400.4h0M1205.4 1405.4h0M1219.5 1417.5h0M1228.6 1420.5h0M1211.5 1422.6h0M1203.4 1422.6h0M1204.4 1432.6h0M1216.5 1419.5h0M1166.1 1468.9h0M1234.6 1445.7h0M1202.4 1444.7h0"/></g>
<g fill="#4197d8"><path d="M1247.5 1616.5 L1247.5 1497.7 L1250.5 1495.7 L1250.5 1495.7 L1250.5 1491.8 L1256.1 1479.7 L1264.2 1471.7 L1274.2 1479.7 L1280.3 1493.8 L1283.3 1513 L1288.3 1491.8 L1296.4 1485.8 L1306.5 1481.8 L1316.5 1485.8 L1322.6 1493.8 L1326.5 1505.9 L1326.5 1509.8 L1328.5 1511.8 L1328.5 1616.5 Q1328.5 1621 1324 1621 L1252 1621 Q1247.5 1621 1247.5 1616.5Z"/><rect x="1280.1" y="1395" width="10.5" height="67.9" rx="4.9"/><path fill="none" stroke="#4197d8" stroke-width="9.8" stroke-linecap="round" d="M1252.2 1481.7V1503.7M1253.4 1474.7V1503.7M1323.8 1494.4V1517.8M1322.8 1488V1517.8M1254.1 1469.6V1489M1260.3 1467.8V1481.5M1265.8 1455.1V1479.2M1269.2 1454.9V1481.8M1272.2 1457.4V1484.4M1275.1 1457.3V1488.5M1278.3 1466.6V1495.8M1280.8 1469.9V1503.6M1283.7 1485.8V1515.1M1287.2 1467.3V1501.6M1290.8 1465.7V1496.3M1293.7 1459V1494M1295.5 1456.7V1492.4M1298 1480.6V1491.1M1300.8 1456V1489.9M1303.9 1453.4V1488.7M1305.9 1456.5V1487.8M1308.5 1459.3V1488.7M1311.8 1456.7V1489.8M1312.8 1450.5h0M1314.6 1458.1V1491M1315.4 1451.3h0M1316.8 1466.8V1492.2M1317.3 1457.6h0M1319.2 1469.9V1495.9M1321.3 1467.9V1498.7M1267 1445.2h0M1271 1448.8h0M1285.8 1474.5h0M1305.8 1445.2h0M1288.3 1398.4h0M1264.6 1421.6h0M1272.2 1428.6h0M1274.2 1435.6h0M1307.5 1432.6h0M1314.5 1434.6h0M1264.2 1441.7h0M1300.4 1445.7h0M1314.5 1446.7h0M1308.5 1441.7h0M1320.6 1461.8h0M1324.6 1469.9h0M1258.1 1447.7h0"/></g>
<g fill="#f8c120"><path d="M1333.5 1616.5 L1333.5 1497.7 L1336.5 1495.7 L1336.5 1495.7 L1336.5 1495.7 L1344.7 1479.7 L1352.8 1469.7 L1360.8 1464.6 L1370.9 1467.7 L1381 1475.7 L1389 1481.8 L1396.1 1493.8 L1399.1 1510 L1411.2 1501.9 L1412 1523 L1412 1526 L1414 1528 L1414 1616.5 Q1414 1621 1409.5 1621 L1338 1621 Q1333.5 1621 1333.5 1616.5Z"/><rect x="1399.1" y="1403" width="10.5" height="79" rx="4.9"/><path fill="none" stroke="#f8c120" stroke-width="9.8" stroke-linecap="round" d="M1338.2 1481.7V1503.7M1339.4 1474.7V1503.7M1409.3 1510.6V1534M1408.3 1504.1V1534M1341 1459.7V1493.8M1343.5 1452.5V1488.4M1347.1 1452.4V1483.4M1347 1443.6h0M1349.1 1449.8V1480.1M1351.1 1443.7V1477.2M1354 1447.8V1474.7M1357.1 1444.5V1472.7M1364.2 1447.9V1471.6M1370.7 1440.8V1473.6M1370.5 1432.8h0M1372.9 1442.6V1475.3M1376.5 1444.5V1478M1379.8 1464.6V1480.5M1379.2 1455h0M1381.6 1447.8V1482.2M1384.4 1468V1484M1386.6 1477.6V1486.2M1388.5 1457V1487.7M1388.2 1451.5h0M1390.9 1455.7V1491.6M1393.2 1484.2V1495.6M1396.1 1478.8V1501.8M1397 1470.3h0M1398.6 1481V1514.5M1400.8 1479.8V1514.5M1403.8 1483.7V1513M1407.3 1483.8V1510.8M1340.6 1454.7h0M1347 1430.9h0M1359.9 1431.3h0M1364.6 1434.9h0M1376.2 1440.6h0M1391.4 1448.1h0M1371.3 1347.6h0M1404.1 1346.6h0M1404.1 1359.1h0M1404.1 1364.1h0M1348.4 1364.8h0M1371.3 1377.6h0M1361.5 1380.9h0M1361.5 1401.4h0M1361.5 1415.1h0M1394.7 1418.1h0M1340.7 1424.2h0M1377 1423.6h0M1377 1428.6h0M1338.7 1441.7h0M1338.7 1456.8h0M1359.8 1432.6h0M1370.9 1436.7h0M1348.8 1440.7h0M1385 1449.7h0M1393.1 1453.8h0"/></g>
<g fill="#413496"><path d="M1429 1616.5 L1429 1509.8 L1432 1507.8 L1432 1507.8 L1432.3 1495.9 L1441.4 1491.8 L1451.5 1487.8 L1461.6 1493.8 L1471.6 1491.8 L1481.7 1491.8 L1488 1501.9 L1488 1507.8 L1488 1507.8 L1490 1509.8 L1490 1616.5 Q1490 1621 1485.5 1621 L1433.5 1621 Q1429 1621 1429 1616.5Z"/><path fill="none" stroke="#413496" stroke-width="9.8" stroke-linecap="round" d="M1433.7 1493.8V1515.8M1434.9 1486.8V1515.8M1485.3 1492.4V1515.8M1484.3 1486V1515.8M1436.1 1472.2V1500.2M1437.4 1461.4h0M1439.7 1479.9V1498.7M1442.4 1467.7V1497.3M1445.4 1472.1V1496.4M1447 1461.4V1495.5M1449.4 1458.4V1494.6M1451.4 1462.2V1494.1M1453.6 1487.3V1495.3M1459.7 1486.4V1498.7M1465.4 1466.7V1499.1M1468.4 1478.8V1498.4M1472 1467.2V1497.8M1473.7 1463.4V1497.8M1477.2 1463.8V1497.8M1479.5 1470.1V1497.8M1483.4 1473.1V1500.2M1443.1 1462.8h0M1462.2 1465.3h0M1468.2 1455.6h0M1441.4 1426.6h0M1450.5 1425.6h0M1464.6 1427.6h0M1485.3 1429.6h0M1455.5 1434.6h0M1442.4 1443.7h0M1461.6 1439.7h0M1471.6 1443.7h0M1480.7 1450.8h0M1449.5 1447.7h0M1467.6 1450.8h0M1435.4 1461.8h0M1434.4 1473.9h0"/></g>
<g fill="#495226"><path d="M1506.5 1616.5 L1506.5 1491.7 L1509.5 1489.7 L1509.5 1489.7 L1509.9 1475.7 L1522 1473.7 L1524 1485.8 L1536.1 1493.8 L1542.1 1501.9 L1550.2 1499.9 L1560.2 1499.9 L1561 1515.9 L1561 1515.9 L1563 1517.9 L1563 1616.5 Q1563 1621 1558.5 1621 L1511 1621 Q1506.5 1621 1506.5 1616.5Z"/><rect x="1525.4" y="1338.6" width="10.5" height="25" rx="4.9"/><rect x="1525.1" y="1380.9" width="11" height="117.3" rx="4.9"/><path fill="none" stroke="#495226" stroke-width="9.8" stroke-linecap="round" d="M1511.2 1475.7V1497.7M1512.4 1468.7V1497.7M1558.3 1500.5V1523.9M1557.3 1494V1523.9M1513.1 1465.3V1481.1M1517 1454.5V1480.5M1519.8 1444.8V1480.1M1522 1451.6V1482.7M1521.1 1444h0M1525.8 1459.1V1492.8M1527 1460.1V1494.1M1529.8 1461.7V1495.9M1533.5 1469.6V1497.8M1539.6 1491.5V1504.6M1546.6 1481.2V1506.9M1548.8 1469.9V1506.3M1551.4 1472.6V1505.9M1554.9 1475.2V1505.9M1527.5 1459h0M1535 1460.5h0M1546.4 1471.4h0M1538.1 1428.6h0M1532 1429.6h0M1556.2 1440.7h0M1553.2 1451.8h0M1542.1 1459.8h0M1536.1 1441.7h0"/></g>
<g fill="#d60b6f"><path d="M1579 1616.5 L1579 1507.8 L1582 1505.8 L1582.8 1505.8 L1584.4 1501.9 L1594.5 1489.8 L1602.5 1486.8 L1612.6 1487.8 L1622.7 1491.8 L1630 1501.9 L1630 1507.8 L1630 1507.8 L1632 1509.8 L1632 1616.5 Q1632 1621 1627.5 1621 L1583.5 1621 Q1579 1621 1579 1616.5Z"/><path fill="none" stroke="#d60b6f" stroke-width="9.8" stroke-linecap="round" d="M1583.7 1491.8V1513.8M1584.9 1484.8V1513.8M1627.3 1492.4V1515.8M1626.3 1486V1515.8M1586.6 1473.3V1505.9M1588.3 1472.5V1503.1M1590.2 1478.4V1500.4M1594.3 1472.2V1496.4M1596.9 1459.3V1494.8M1600.4 1459.1V1493.7M1603.6 1459.5V1492.9M1609.9 1483.2V1493.5M1616.7 1484.3V1495.3M1619.7 1467.9V1496.7M1622.8 1469.3V1498.3M1625.4 1478.2V1501.3M1591.3 1464.6h0M1605.7 1458.8h0M1615.7 1456.8h0M1624.4 1462.9h0M1594.1 1363.1h0M1588.8 1417.5h0M1623.7 1423.2h0M1603.5 1427.6h0M1590.5 1450.8h0M1604 1427.6h0M1623.8 1423.2h0M1628.2 1459.8h0M1629.2 1467.9h0"/></g>
<g fill="#e66519"><path d="M1638.5 1616.5 L1638.5 1507.8 L1641.5 1505.8 L1641.5 1505.8 L1641.5 1491.8 L1652.4 1489.8 L1666.5 1493.8 L1672.5 1489.8 L1684.6 1487.8 L1692.6 1489.8 L1694.5 1503.8 L1694.5 1503.8 L1696.5 1505.8 L1696.5 1616.5 Q1696.5 1621 1692 1621 L1643 1621 Q1638.5 1621 1638.5 1616.5Z"/><rect x="1655.2" y="1381.9" width="10.5" height="118.2" rx="4.9"/><path fill="none" stroke="#e66519" stroke-width="9.8" stroke-linecap="round" d="M1643.2 1491.8V1513.8M1644.4 1484.8V1513.8M1691.8 1488.4V1511.8M1690.8 1482V1511.8M1645.3 1479.5V1497.1M1648.9 1463.5V1496.5M1648.4 1456.8h0M1652.1 1460V1495.9M1654.7 1465.6V1496.4M1657.7 1482.2V1497.3M1657.3 1471.3h0M1660.4 1468.5V1498M1662.7 1465.2V1498.8M1665.9 1477.2V1499.6M1668.3 1466.3V1498.7M1671.9 1486.7V1496.4M1673.6 1460.7V1495.6M1675.7 1467.4V1495.2M1678.7 1466.4V1494.8M1677.5 1458.3h0M1681.4 1464V1494.3M1683.6 1462.7V1494M1686.8 1458.3V1494.2M1688.8 1461.4V1494.8M1651.7 1461.7h0M1671.2 1462.5h0M1682.3 1458.2h0M1646.9 1383.3h0M1672.5 1411.1h0M1646.3 1420.1h0M1643.3 1434.6h0M1643.3 1440.7h0M1655.4 1439.7h0M1672.5 1429.6h0M1670.5 1439.7h0M1686.6 1425.6h0M1683.6 1433.6h0M1688.6 1445.7h0M1652.4 1443.7h0M1676.5 1428.6h0M1692.6 1457.8h0"/></g>
<g fill="#d581b7"><path d="M1702.5 1616.5 L1702.5 1507.8 L1705.5 1505.8 L1705.5 1505.8 L1705.5 1505.8 L1714.8 1489.8 L1724.9 1491.8 L1737 1471.7 L1747 1473.7 L1751.1 1489.7 L1753.5 1489.7 L1753.5 1489.7 L1755.5 1491.7 L1755.5 1616.5 Q1755.5 1621 1751 1621 L1707 1621 Q1702.5 1621 1702.5 1616.5Z"/><rect x="1704.5" y="1409.1" width="10.5" height="97.4" rx="4.9"/><rect x="1725" y="956" width="10.3" height="146" rx="4.9"/><rect x="1725" y="1103.5" width="10.3" height="67.5" rx="4.9"/><rect x="1725" y="1206.5" width="10.3" height="33" rx="4.9"/><rect x="1724.7" y="1276.9" width="10.5" height="214.5" rx="4.9"/><path fill="none" stroke="#d581b7" stroke-width="9.8" stroke-linecap="round" d="M1707.2 1491.8V1513.8M1708.4 1484.8V1513.8M1750.8 1474.3V1497.7M1749.8 1467.9V1497.7M1709.3 1470.5V1504.8M1710.5 1462.7h0M1712.2 1472.6V1500.5M1714.9 1470.9V1495.8M1717.7 1483.7V1496.3M1717.2 1473.5h0M1720.1 1472V1496.9M1723.7 1472.2V1497.5M1726.7 1480.2V1494.6M1729.1 1466.4V1490.8M1730.6 1458.2V1487.4M1734.1 1446.6V1482.3M1736.2 1451.6V1478.5M1738.9 1448.9V1478M1741.2 1446.7V1478.6M1744.5 1452.9V1479.1M1747.5 1443.9V1479.7M1746.5 1437h0M1718.9 1455.7h0M1724 1463.3h0M1729.5 1455.5h0M1740.3 1442.1h0M1730.2 1193.8h0M1729.9 1255.4h0M1729.9 1267.5h0M1709.8 1392.3h0M1717.8 1422.6h0M1745.4 1424.6h0M1720.8 1450.8h0M1741 1439.7h0M1749 1453.8h0"/></g>
<g fill="#83d3ad"><path d="M1761 1616.5 L1761 1507.8 L1764 1505.8 L1764 1505.8 L1764.1 1491.8 L1771.2 1489.8 L1779.3 1479.7 L1789.3 1471.7 L1799.4 1473.7 L1805.4 1493.8 L1810.5 1497.9 L1811.5 1509.8 L1811.5 1509.8 L1813.5 1511.8 L1813.5 1616.5 Q1813.5 1621 1809 1621 L1765.5 1621 Q1761 1621 1761 1616.5Z"/><path fill="none" stroke="#83d3ad" stroke-width="9.8" stroke-linecap="round" d="M1765.7 1491.8V1513.8M1766.9 1484.8V1513.8M1808.8 1494.4V1517.8M1807.8 1488V1517.8M1768.1 1469.6V1496.7M1770.9 1460V1495.6M1773.7 1458.6V1493.1M1776.4 1458.9V1489.4M1778.2 1453.9V1486.6M1778.7 1447.8h0M1781.1 1452.1V1484.6M1779.9 1442.5h0M1783.9 1451.3V1481.9M1786.7 1446.3V1480.1M1787.3 1436.7h0M1789.4 1467.1V1477.8M1791.3 1460.6V1478.2M1794.9 1444.4V1478.8M1794.8 1438.9h0M1798.3 1444V1479.4M1799.4 1447.5V1481.4M1802.5 1466.5V1490.8M1804 1459.9h0M1804.6 1466.4V1498.1M1768.1 1461.1h0M1775.9 1454.3h0M1801.4 1394.4h0M1769.6 1422.6h0M1797.4 1431.6h0M1772.2 1439.7h0M1771.2 1451.8h0M1767.2 1427.6h0M1793.4 1439.7h0M1781.3 1447.7h0"/></g>
<g fill="#7c162c"><path d="M1818.5 1616.5 L1818.5 1494.7 L1821.5 1492.7 L1821.5 1492.7 L1821.6 1487.8 L1827.6 1476.7 L1839.7 1476.7 L1854.8 1493.8 L1857.8 1509.8 L1858.5 1509.8 L1860.5 1511.8 L1860.5 1616.5 Q1860.5 1621 1856 1621 L1823 1621 Q1818.5 1621 1818.5 1616.5Z"/><rect x="1842.6" y="1323.3" width="10.3" height="11.3" rx="4.9"/><rect x="1842.6" y="1336.6" width="10.3" height="25" rx="4.9"/><path d="M1843.3 1404.4 L1852.2 1404.4 L1854.2 1421.6 L1855.8 1441.7 L1856.8 1465.9 L1840.7 1465.9 L1841.7 1441.7 L1842.7 1421.6Z"/><path fill="none" stroke="#7c162c" stroke-width="9.8" stroke-linecap="round" d="M1823.2 1478.7V1500.7M1824.4 1471.7V1500.7M1855.8 1494.4V1517.8M1854.8 1488V1517.8M1825.4 1459.3V1486.4M1828.9 1461.9V1482.7M1831.7 1455.1V1482.7M1831.6 1449.9h0M1834.8 1452.4V1482.7M1837.1 1449V1482.7M1839.8 1449.4V1482.7M1841.9 1455.6V1485.1M1844.7 1462.5V1488.2M1847.2 1461.1V1491.3M1849.9 1463.6V1494.5M1853.3 1463.8V1498.3M1825.6 1452.3h0M1843.5 1446.4h0M1850.9 1460.5h0M1847.7 1293.7h0M1847.7 1315.8h0M1847.7 1367.2h0M1847.7 1378.2h0M1847.7 1390.3h0M1824.6 1404h0M1847.7 1407.5h0M1851.8 1419.5h0M1844.7 1421.6h0M1854.8 1441.7h0M1822.6 1457.8h0"/></g>
<g fill="#26755d"><path d="M1866.5 1616.5 L1866.5 1495.7 L1869.5 1493.7 L1869.5 1493.7 L1869.5 1483.8 L1877.9 1477.7 L1884 1499.9 L1888 1475.7 L1898.1 1471.7 L1906.1 1483.8 L1908 1487.7 L1908 1487.7 L1910 1489.7 L1910 1616.5 Q1910 1621 1905.5 1621 L1871 1621 Q1866.5 1621 1866.5 1616.5Z"/><path fill="none" stroke="#26755d" stroke-width="9.8" stroke-linecap="round" d="M1871.2 1479.7V1501.7M1872.4 1472.7V1501.7M1905.3 1472.3V1495.7M1904.3 1465.8V1495.7M1873.3 1453.1V1486.8M1877.3 1470.9V1484.5M1879.2 1477.3V1487.6M1881.9 1471.4V1499.7M1884.4 1480V1501.9M1887.4 1453.8V1487.1M1887.8 1446.8h0M1890.6 1464.3V1480.7M1892.6 1450.3V1479.9M1891.9 1441.6h0M1895.5 1445.9V1478.8M1894.5 1438.2h0M1897.1 1452.6V1477.9M1896.9 1445.3h0M1900.4 1444.8V1480.6M1902.4 1448.3V1484.1M1873.6 1446.3h0M1889.7 1445.8h0M1894.1 1351.1h0M1903.1 1387.7h0M1875.9 1419.1h0M1873.9 1429.6h0M1875.9 1437.7h0M1905.1 1423.6h0M1901.1 1431.6h0M1898.1 1438.7h0M1890 1443.7h0M1871.9 1434.6h0"/></g>
<g fill="#4197d8"><path d="M1922 1616.5 L1922 1515.9 L1925 1513.9 L1925 1513.9 L1925.3 1499.9 L1932.3 1497.9 L1944.4 1493.8 L1948.4 1509.8 L1949 1509.8 L1951 1511.8 L1951 1616.5 Q1951 1621 1946.5 1621 L1926.5 1621 Q1922 1621 1922 1616.5Z"/><rect x="1933.3" y="1444.3" width="11" height="59.4" rx="4.9"/><path fill="none" stroke="#4197d8" stroke-width="9.8" stroke-linecap="round" d="M1926.7 1499.9V1521.9M1927.9 1492.9V1521.9M1946.3 1494.4V1517.8M1945.3 1488V1517.8M1929.4 1473.8V1504.8M1931.7 1469.2V1504.1M1934.3 1472.9V1503.1M1933.7 1466.4h0M1938.3 1468.4V1502M1939.7 1470.2V1501.3M1942.4 1475.9V1500.4M1943.7 1465h0M1929.1 1469.8h0M1943 1464.6h0M1930.7 1401h0M1932.3 1430h0M1942.4 1457.8h0M1928.3 1467.9h0"/></g>
<g fill="#f8c120"><path d="M1964 1616.5 L1964 1499.8 L1967 1497.8 L1967 1497.8 L1967.6 1489.8 L1973.6 1481.8 L1982.7 1489.8 L1990.5 1499.9 L1990.5 1505.8 L1990.5 1505.8 L1992.5 1507.8 L1992.5 1616.5 Q1992.5 1621 1988 1621 L1968.5 1621 Q1964 1621 1964 1616.5Z"/><path fill="none" stroke="#f8c120" stroke-width="9.8" stroke-linecap="round" d="M1968.7 1483.8V1505.8M1969.9 1476.8V1505.8M1987.8 1490.4V1513.8M1986.8 1484V1513.8M1971.3 1462.3V1491.1M1974.1 1468.3V1488.4M1976.6 1456.8V1490.9M1979.6 1469.8V1493M1982.3 1482.9V1495.2M1984.5 1471.3V1498.6M1984.6 1465.5h0M1981.1 1452.3h0M1975.6 1401h0M1984.3 1437.3h0M1988.7 1444.7h0M1987.7 1451.8h0M1973.6 1451.8h0M1990.7 1465.9h0"/></g>
<path d="M120.2 1348 H1716" stroke="#555" stroke-width="1.7" fill="none"/>
<path d="M1716 1348.3 H1989.5" stroke="#000" stroke-width="1.1" fill="none"/>
<path d="M120.2 918.5 V1616.3" stroke="#000" stroke-width="1.5" fill="none"/>
<path d="M109.7 1616 H120.2" stroke="#000" stroke-width="1.4"/>
<text x="99.9" y="1622" font-size="16" font-weight="bold" text-anchor="end" textLength="9.5" lengthAdjust="spacingAndGlyphs">0</text>
<path d="M109.7 1432.6 H120.2" stroke="#000" stroke-width="1.4"/>
<text x="99.9" y="1438.6" font-size="16" font-weight="bold" text-anchor="end" textLength="9.5" lengthAdjust="spacingAndGlyphs">5</text>
<path d="M109.7 1249.5 H120.2" stroke="#000" stroke-width="1.4"/>
<text x="99.9" y="1255.5" font-size="16" font-weight="bold" text-anchor="end" textLength="19" lengthAdjust="spacingAndGlyphs">10</text>
<path d="M109.7 1065.8 H120.2" stroke="#000" stroke-width="1.4"/>
<text x="99.9" y="1071.8" font-size="16" font-weight="bold" text-anchor="end" textLength="19" lengthAdjust="spacingAndGlyphs">15</text>
<path d="M119.5 1643.6 H1989" stroke="#000" stroke-width="1.5"/>
<path d="M120.2 1643.6 V1653.8" stroke="#000" stroke-width="1.4"/>
<text x="120.2" y="1679.3" font-size="16" font-weight="bold" text-anchor="middle" textLength="29.4" lengthAdjust="spacingAndGlyphs">Chr</text>
<path d="M201 1643.6 V1653.8" stroke="#000" stroke-width="1.4"/>
<text x="201" y="1679.3" font-size="16" font-weight="bold" text-anchor="middle" textLength="9.4" lengthAdjust="spacingAndGlyphs">1</text>
<path d="M347.5 1643.6 V1653.8" stroke="#000" stroke-width="1.4"/>
<text x="347.5" y="1679.3" font-size="16" font-weight="bold" text-anchor="middle" textLength="9.4" lengthAdjust="spacingAndGlyphs">2</text>
<path d="M479.5 1643.6 V1653.8" stroke="#000" stroke-width="1.4"/>
<text x="479.5" y="1679.3" font-size="16" font-weight="bold" text-anchor="middle" textLength="9.4" lengthAdjust="spacingAndGlyphs">3</text>
<path d="M598.5 1643.6 V1653.8" stroke="#000" stroke-width="1.4"/>
<text x="598.5" y="1679.3" font-size="16" font-weight="bold" text-anchor="middle" textLength="9.4" lengthAdjust="spacingAndGlyphs">4</text>
<path d="M713.5 1643.6 V1653.8" stroke="#000" stroke-width="1.4"/>
<text x="713.5" y="1679.3" font-size="16" font-weight="bold" text-anchor="middle" textLength="9.4" lengthAdjust="spacingAndGlyphs">5</text>
<path d="M823 1643.6 V1653.8" stroke="#000" stroke-width="1.4"/>
<text x="823" y="1679.3" font-size="16" font-weight="bold" text-anchor="middle" textLength="9.4" lengthAdjust="spacingAndGlyphs">6</text>
<path d="M925 1643.6 V1653.8" stroke="#000" stroke-width="1.4"/>
<text x="925" y="1679.3" font-size="16" font-weight="bold" text-anchor="middle" textLength="9.4" lengthAdjust="spacingAndGlyphs">7</text>
<path d="M1021.5 1643.6 V1653.8" stroke="#000" stroke-width="1.4"/>
<text x="1021.5" y="1679.3" font-size="16" font-weight="bold" text-anchor="middle" textLength="9.4" lengthAdjust="spacingAndGlyphs">8</text>
<path d="M1112.5 1643.6 V1653.8" stroke="#000" stroke-width="1.4"/>
<text x="1112.5" y="1679.3" font-size="16" font-weight="bold" text-anchor="middle" textLength="9.4" lengthAdjust="spacingAndGlyphs">9</text>
<path d="M1200.5 1643.6 V1653.8" stroke="#000" stroke-width="1.4"/>
<text x="1200.5" y="1679.3" font-size="16" font-weight="bold" text-anchor="middle" textLength="18.9" lengthAdjust="spacingAndGlyphs">10</text>
<path d="M1287 1643.6 V1653.8" stroke="#000" stroke-width="1.4"/>
<text x="1287" y="1679.3" font-size="16" font-weight="bold" text-anchor="middle" textLength="18.9" lengthAdjust="spacingAndGlyphs">11</text>
<path d="M1374 1643.6 V1653.8" stroke="#000" stroke-width="1.4"/>
<text x="1374" y="1679.3" font-size="16" font-weight="bold" text-anchor="middle" textLength="18.9" lengthAdjust="spacingAndGlyphs">12</text>
<path d="M1455.5 1643.6 V1653.8" stroke="#000" stroke-width="1.4"/>
<text x="1455.5" y="1679.3" font-size="16" font-weight="bold" text-anchor="middle" textLength="18.9" lengthAdjust="spacingAndGlyphs">13</text>
<path d="M1530 1643.6 V1653.8" stroke="#000" stroke-width="1.4"/>
<text x="1530" y="1679.3" font-size="16" font-weight="bold" text-anchor="middle" textLength="18.9" lengthAdjust="spacingAndGlyphs">14</text>
<path d="M1601 1643.6 V1653.8" stroke="#000" stroke-width="1.4"/>
<text x="1601" y="1679.3" font-size="16" font-weight="bold" text-anchor="middle" textLength="18.9" lengthAdjust="spacingAndGlyphs">15</text>
<path d="M1666.5 1643.6 V1653.8" stroke="#000" stroke-width="1.4"/>
<text x="1666.5" y="1679.3" font-size="16" font-weight="bold" text-anchor="middle" textLength="18.9" lengthAdjust="spacingAndGlyphs">16</text>
<path d="M1728 1643.6 V1653.8" stroke="#000" stroke-width="1.4"/>
<text x="1728" y="1679.3" font-size="16" font-weight="bold" text-anchor="middle" textLength="18.9" lengthAdjust="spacingAndGlyphs">17</text>
<path d="M1787.5 1643.6 V1653.8" stroke="#000" stroke-width="1.4"/>
<text x="1787.5" y="1679.3" font-size="16" font-weight="bold" text-anchor="middle" textLength="18.9" lengthAdjust="spacingAndGlyphs">18</text>
<path d="M1839 1643.6 V1653.8" stroke="#000" stroke-width="1.4"/>
<text x="1839" y="1679.3" font-size="16" font-weight="bold" text-anchor="middle" textLength="18.9" lengthAdjust="spacingAndGlyphs">19</text>
<path d="M1887.5 1643.6 V1653.8" stroke="#000" stroke-width="1.4"/>
<text x="1887.5" y="1679.3" font-size="16" font-weight="bold" text-anchor="middle" textLength="18.9" lengthAdjust="spacingAndGlyphs">20</text>
<path d="M1932.5 1643.6 V1653.8" stroke="#000" stroke-width="1.4"/>
<text x="1932.5" y="1679.3" font-size="16" font-weight="bold" text-anchor="middle" textLength="18.9" lengthAdjust="spacingAndGlyphs">21</text>
<path d="M1974 1643.6 V1653.8" stroke="#000" stroke-width="1.4"/>
<text x="1974" y="1679.3" font-size="16" font-weight="bold" text-anchor="middle" textLength="18.9" lengthAdjust="spacingAndGlyphs">22</text>
<path d="M450 1093 L537 1161.3" stroke="#444" stroke-width="0.9" stroke-dasharray="3.5 2.5" fill="none"/>
<path d="M1276.3 1267 L1362.2 1334.8" stroke="#444" stroke-width="0.9" stroke-dasharray="3.5 2.5" fill="none"/>
<path d="M1406.7 1198 L1406.7 1335" stroke="#444" stroke-width="0.9" stroke-dasharray="3.5 2.5" fill="none"/>
<text x="129.5" y="925" font-size="24.2" textLength="201.5" lengthAdjust="spacingAndGlyphs">rs2230288 <tspan font-style="italic">(GBA)</tspan></text>
<text x="296" y="1080.5" font-size="24.2" textLength="281" lengthAdjust="spacingAndGlyphs">rs34311866 <tspan font-style="italic">(TMEM175)</tspan></text>
<text x="269.5" y="1208.5" font-size="24.2" textLength="225.5" lengthAdjust="spacingAndGlyphs">rs9917256 <tspan font-style="italic">(STK39)</tspan></text>
<text x="595.5" y="1000" font-size="24.2" textLength="204.5" lengthAdjust="spacingAndGlyphs">rs356219 <tspan font-style="italic">(SNCA)</tspan></text>
<text x="663.7" y="1273.3" font-size="24.2" textLength="272.8" lengthAdjust="spacingAndGlyphs">rs2760980 <tspan font-style="italic">(HLA-DRB1)</tspan></text>
<text x="1111.8" y="1255.6" font-size="24.2" textLength="244.5" lengthAdjust="spacingAndGlyphs">rs34637584 (<tspan font-style="italic">LRRK2</tspan>)</text>
<text x="1286.3" y="1191.5" font-size="24.2" textLength="238" lengthAdjust="spacingAndGlyphs">rs10847839 (<tspan font-style="italic">HIP1R</tspan>)</text>
<text x="1416.5" y="1306" font-size="24.2" textLength="217.3" lengthAdjust="spacingAndGlyphs">rs2183082 (<tspan font-style="italic">GCH1</tspan>)</text>
<text x="1740.5" y="967.5" font-size="24.2" textLength="246.5" lengthAdjust="spacingAndGlyphs">rs4630591 (<tspan font-style="italic">KANSL1</tspan>)</text>
<text x="1761.7" y="1277.5" font-size="24.2" textLength="213.9" lengthAdjust="spacingAndGlyphs">rs6857 (<tspan font-style="italic">NECTIN2</tspan>)</text>
<text x="18.8" y="1663.6" font-size="45.5">(b)</text><text transform="translate(47.9 1318.5) rotate(-90)" font-size="26" textLength="102.5" lengthAdjust="spacingAndGlyphs">−log<tspan font-size="17" dy="4">10</tspan><tspan dy="-4">(</tspan><tspan font-style="italic">p</tspan>)</text>
</svg>
</body></html>
